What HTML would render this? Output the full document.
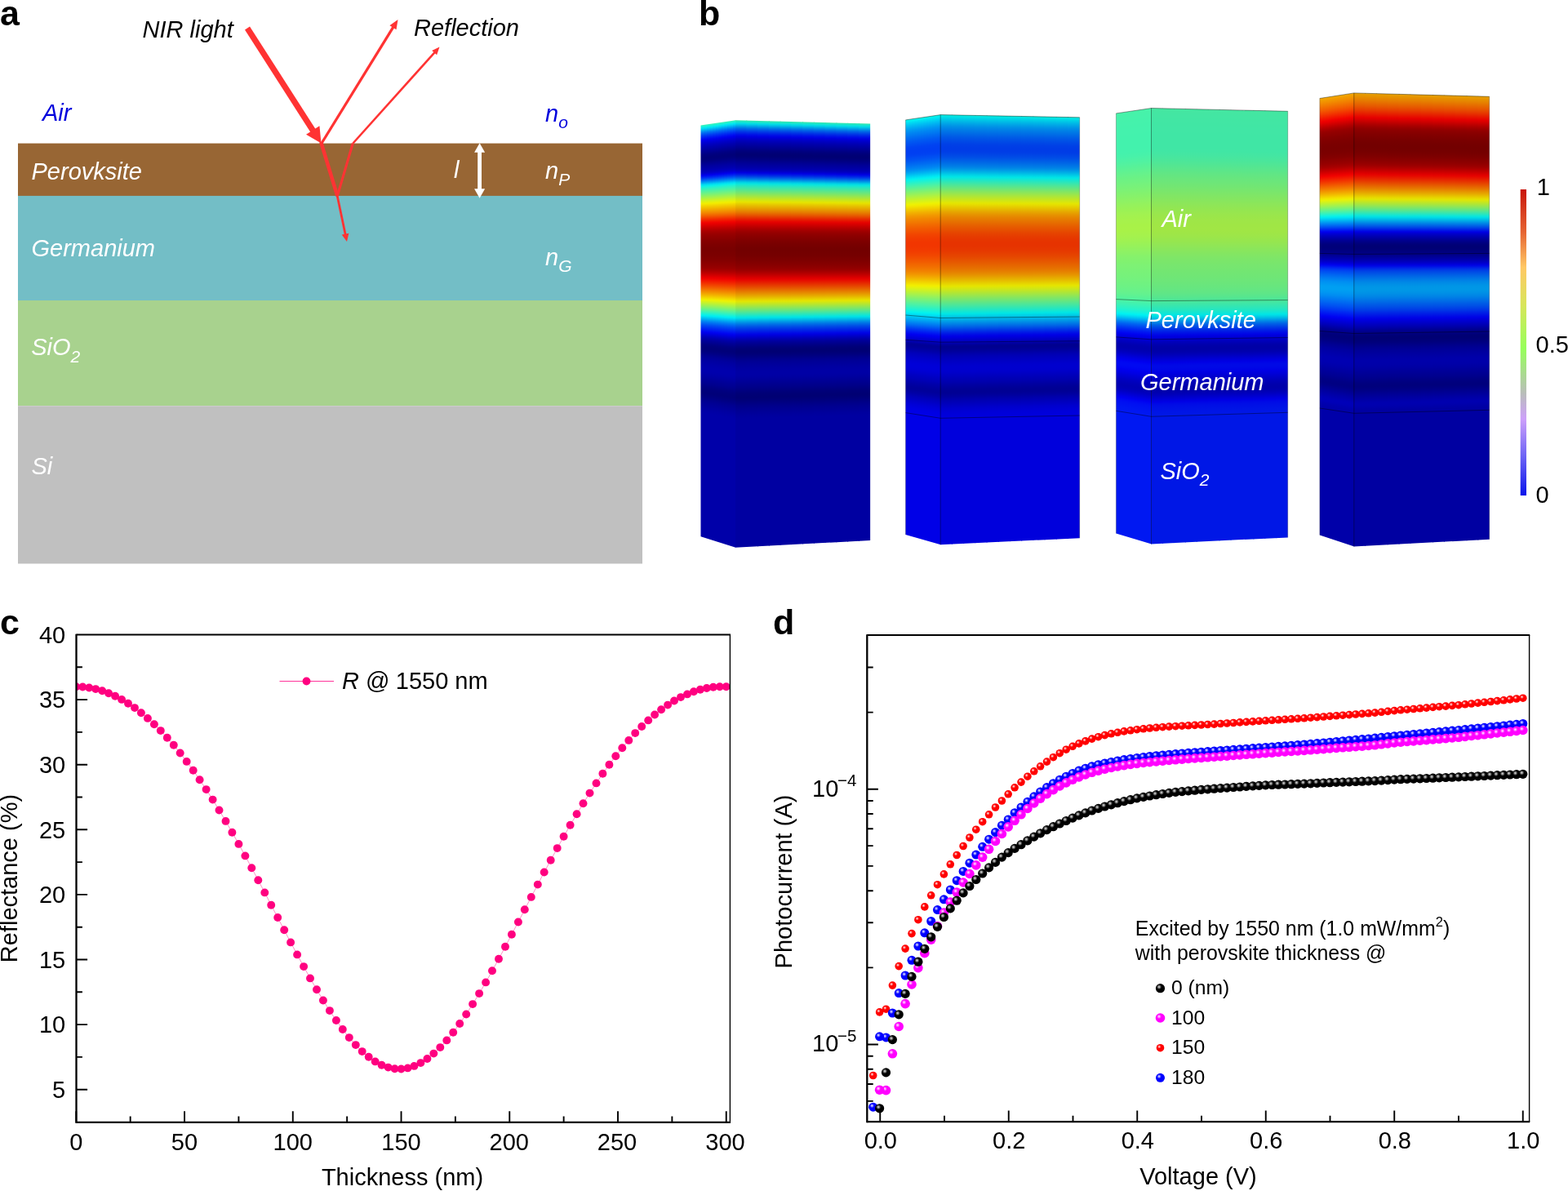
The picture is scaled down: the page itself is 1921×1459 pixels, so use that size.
<!DOCTYPE html>
<html lang="en"><head><meta charset="utf-8"><title>Figure</title>
<style>
html,body{margin:0;padding:0;background:#fff;}
body{width:1921px;height:1459px;overflow:hidden;font-family:"Liberation Sans", sans-serif;}
svg{display:block;position:absolute;left:0;top:0;}
svg text{font-family:"Liberation Sans", sans-serif;}
</style></head><body>
<svg width="1921" height="1459" viewBox="0 0 1921 1459">
<rect width="1921" height="1459" fill="#fff"/>

<g id="panel-a">
<text x="0" y="31" font-size="43" fill="#000" text-anchor="start" font-weight="bold" style="" >a</text>
<rect x="22" y="175.6" width="765" height="65" fill="#986634"/>
<rect x="22" y="239.9" width="765" height="129" fill="#73bec6"/>
<rect x="22" y="368" width="765" height="129" fill="#a8d28e"/>
<rect x="22" y="497.2" width="765" height="193.3" fill="#c0c0c0"/>
<text x="174.5" y="46" font-size="29" fill="#000" text-anchor="start" font-weight="normal" style="font-style:italic;" >NIR light</text>
<text x="507" y="43.5" font-size="29" fill="#000" text-anchor="start" font-weight="normal" style="font-style:italic;" >Reflection</text>
<text x="52" y="148" font-size="29" fill="#0000dc" text-anchor="start" font-weight="normal" style="font-style:italic;" >Air</text>
<text x="668" y="148.5" font-size="29" fill="#0000dc" style="font-style:italic">n<tspan dy="8.3" font-size="21">o</tspan></text>
<text x="38.5" y="220.3" font-size="29" fill="#fff" text-anchor="start" font-weight="normal" style="font-style:italic;" >Perovksite</text>
<text x="556" y="217.5" font-size="29" fill="#fff" text-anchor="start" font-weight="normal" style="font-style:italic;" >l</text>
<text x="668" y="219" font-size="29" fill="#fff" style="font-style:italic">n<tspan dy="8.3" font-size="21">P</tspan></text>
<text x="38.5" y="314.2" font-size="29" fill="#fff" text-anchor="start" font-weight="normal" style="font-style:italic;" >Germanium</text>
<text x="668" y="325" font-size="29" fill="#fff" style="font-style:italic">n<tspan dy="8.3" font-size="21">G</tspan></text>
<text x="38.2" y="435.2" font-size="29" fill="#fff" style="font-style:italic">SiO<tspan dy="8.3" font-size="21">2</tspan></text>
<text x="38.5" y="580.5" font-size="29" fill="#fff" text-anchor="start" font-weight="normal" style="font-style:italic;" >Si</text>
<line x1="303.00" y1="34.50" x2="383.78" y2="160.45" stroke="#ff3333" stroke-width="7.2"/><polygon points="393.50,175.60 375.04,164.87 391.45,154.34" fill="#ff3333"/>
<line x1="394.00" y1="175.50" x2="481.99" y2="32.94" stroke="#ff3333" stroke-width="3.3"/><polygon points="487.50,24.00 485.50,36.28 477.42,31.29" fill="#ff3333"/>
<line x1="432.50" y1="175.50" x2="532.82" y2="63.82" stroke="#ff3333" stroke-width="2.6"/><polygon points="538.50,57.50 535.13,67.24 529.18,61.89" fill="#ff3333"/>
<line x1="393.2" y1="174" x2="413.3" y2="240" stroke="#ff3333" stroke-width="4.4"/>
<line x1="413.3" y1="240" x2="432.3" y2="175.5" stroke="#ff3333" stroke-width="3"/>
<line x1="412.80" y1="238.00" x2="423.25" y2="287.68" stroke="#ff3333" stroke-width="2.8"/><polygon points="425.00,296.00 418.74,287.61 427.35,285.80" fill="#ff3333"/>
<line x1="587.6" y1="185" x2="587.6" y2="233" stroke="#fff" stroke-width="4.8"/>
<polygon points="587.6,175.2 594.1,186.8 581.1,186.8" fill="#fff"/>
<polygon points="587.6,242.8 594.1,231.2 581.1,231.2" fill="#fff"/>
</g>
<g id="panel-b">
<text x="856" y="31" font-size="43" fill="#000" text-anchor="start" font-weight="bold" style="" >b</text>
<defs>
<linearGradient id="gc1" gradientUnits="userSpaceOnUse" x1="0" y1="147.3" x2="0" y2="670.7">
<stop offset="0.0000" stop-color="#3ce6aa"/><stop offset="0.0038" stop-color="#19e6cd"/><stop offset="0.0076" stop-color="#00dbe6"/><stop offset="0.0115" stop-color="#00b6e6"/><stop offset="0.0153" stop-color="#008fe6"/><stop offset="0.0191" stop-color="#006be6"/><stop offset="0.0229" stop-color="#004fe6"/><stop offset="0.0267" stop-color="#0035e6"/><stop offset="0.0306" stop-color="#001ee6"/><stop offset="0.0344" stop-color="#000ae6"/><stop offset="0.0382" stop-color="#0000dd"/><stop offset="0.0420" stop-color="#0000ce"/><stop offset="0.0459" stop-color="#0000c0"/><stop offset="0.0497" stop-color="#0000b4"/><stop offset="0.0535" stop-color="#0000a9"/><stop offset="0.0573" stop-color="#0000a0"/><stop offset="0.0611" stop-color="#000096"/><stop offset="0.0650" stop-color="#00008d"/><stop offset="0.0688" stop-color="#000083"/><stop offset="0.0726" stop-color="#00007b"/><stop offset="0.0764" stop-color="#000076"/><stop offset="0.0802" stop-color="#000073"/><stop offset="0.0841" stop-color="#000075"/><stop offset="0.0879" stop-color="#00007b"/><stop offset="0.0917" stop-color="#000083"/><stop offset="0.0955" stop-color="#00008c"/><stop offset="0.0994" stop-color="#000095"/><stop offset="0.1032" stop-color="#00009c"/><stop offset="0.1070" stop-color="#0000a3"/><stop offset="0.1108" stop-color="#0000ab"/><stop offset="0.1146" stop-color="#0000b5"/><stop offset="0.1185" stop-color="#0000c7"/><stop offset="0.1223" stop-color="#0000e0"/><stop offset="0.1261" stop-color="#0017e6"/><stop offset="0.1299" stop-color="#0036e6"/><stop offset="0.1337" stop-color="#005ae6"/><stop offset="0.1376" stop-color="#0081e6"/><stop offset="0.1414" stop-color="#00a9e6"/><stop offset="0.1452" stop-color="#00d2e6"/><stop offset="0.1490" stop-color="#0be6db"/><stop offset="0.1528" stop-color="#23e6c3"/><stop offset="0.1567" stop-color="#38e6ae"/><stop offset="0.1605" stop-color="#4ae69b"/><stop offset="0.1643" stop-color="#5de689"/><stop offset="0.1681" stop-color="#70e676"/><stop offset="0.1720" stop-color="#84e661"/><stop offset="0.1758" stop-color="#99e64d"/><stop offset="0.1796" stop-color="#ade638"/><stop offset="0.1834" stop-color="#c2e624"/><stop offset="0.1872" stop-color="#d5e610"/><stop offset="0.1911" stop-color="#e6e300"/><stop offset="0.1949" stop-color="#e6d100"/><stop offset="0.1987" stop-color="#e6c000"/><stop offset="0.2025" stop-color="#e6b000"/><stop offset="0.2063" stop-color="#e69f00"/><stop offset="0.2102" stop-color="#e68f00"/><stop offset="0.2140" stop-color="#e67e00"/><stop offset="0.2178" stop-color="#e66b00"/><stop offset="0.2216" stop-color="#e65700"/><stop offset="0.2254" stop-color="#e64100"/><stop offset="0.2293" stop-color="#e62b00"/><stop offset="0.2331" stop-color="#e61700"/><stop offset="0.2369" stop-color="#e60500"/><stop offset="0.2407" stop-color="#dc0000"/><stop offset="0.2446" stop-color="#ce0000"/><stop offset="0.2484" stop-color="#c00000"/><stop offset="0.2522" stop-color="#b30000"/><stop offset="0.2560" stop-color="#a70000"/><stop offset="0.2598" stop-color="#9d0000"/><stop offset="0.2637" stop-color="#950000"/><stop offset="0.2675" stop-color="#8f0000"/><stop offset="0.2713" stop-color="#8a0000"/><stop offset="0.2751" stop-color="#860000"/><stop offset="0.2789" stop-color="#820000"/><stop offset="0.2828" stop-color="#7e0000"/><stop offset="0.2866" stop-color="#7b0000"/><stop offset="0.2904" stop-color="#780000"/><stop offset="0.2942" stop-color="#760000"/><stop offset="0.2981" stop-color="#740000"/><stop offset="0.3019" stop-color="#730000"/><stop offset="0.3057" stop-color="#730000"/><stop offset="0.3095" stop-color="#740000"/><stop offset="0.3133" stop-color="#750000"/><stop offset="0.3172" stop-color="#760000"/><stop offset="0.3210" stop-color="#790000"/><stop offset="0.3248" stop-color="#7b0000"/><stop offset="0.3286" stop-color="#7e0000"/><stop offset="0.3324" stop-color="#820000"/><stop offset="0.3363" stop-color="#850000"/><stop offset="0.3401" stop-color="#890000"/><stop offset="0.3439" stop-color="#8e0000"/><stop offset="0.3477" stop-color="#930000"/><stop offset="0.3515" stop-color="#9c0000"/><stop offset="0.3554" stop-color="#a80000"/><stop offset="0.3592" stop-color="#b50000"/><stop offset="0.3630" stop-color="#c30000"/><stop offset="0.3668" stop-color="#d20000"/><stop offset="0.3707" stop-color="#e10000"/><stop offset="0.3745" stop-color="#e60900"/><stop offset="0.3783" stop-color="#e61800"/><stop offset="0.3821" stop-color="#e62700"/><stop offset="0.3859" stop-color="#e63700"/><stop offset="0.3898" stop-color="#e64700"/><stop offset="0.3936" stop-color="#e65800"/><stop offset="0.3974" stop-color="#e66900"/><stop offset="0.4012" stop-color="#e67a00"/><stop offset="0.4050" stop-color="#e68b00"/><stop offset="0.4089" stop-color="#e69d00"/><stop offset="0.4127" stop-color="#e6af00"/><stop offset="0.4165" stop-color="#e6c200"/><stop offset="0.4203" stop-color="#e6d500"/><stop offset="0.4241" stop-color="#e3e603"/><stop offset="0.4280" stop-color="#cee617"/><stop offset="0.4318" stop-color="#b9e62d"/><stop offset="0.4356" stop-color="#a3e642"/><stop offset="0.4394" stop-color="#8de659"/><stop offset="0.4433" stop-color="#76e66f"/><stop offset="0.4471" stop-color="#5fe687"/><stop offset="0.4509" stop-color="#47e69f"/><stop offset="0.4547" stop-color="#2ee6b7"/><stop offset="0.4585" stop-color="#15e6d0"/><stop offset="0.4624" stop-color="#00e2e6"/><stop offset="0.4662" stop-color="#00c7e6"/><stop offset="0.4700" stop-color="#00ace6"/><stop offset="0.4738" stop-color="#0090e6"/><stop offset="0.4776" stop-color="#0076e6"/><stop offset="0.4815" stop-color="#005fe6"/><stop offset="0.4853" stop-color="#004ae6"/><stop offset="0.4891" stop-color="#0038e6"/><stop offset="0.4929" stop-color="#0027e6"/><stop offset="0.4968" stop-color="#0017e6"/><stop offset="0.5006" stop-color="#0007e6"/><stop offset="0.5044" stop-color="#0000dc"/><stop offset="0.5082" stop-color="#0000ca"/><stop offset="0.5120" stop-color="#0000b8"/><stop offset="0.5159" stop-color="#0000a8"/><stop offset="0.5197" stop-color="#00009b"/><stop offset="0.5235" stop-color="#000091"/><stop offset="0.5273" stop-color="#000088"/><stop offset="0.5311" stop-color="#00007f"/><stop offset="0.5350" stop-color="#000078"/><stop offset="0.5388" stop-color="#000074"/><stop offset="0.5426" stop-color="#000073"/><stop offset="0.5464" stop-color="#000076"/><stop offset="0.5502" stop-color="#00007b"/><stop offset="0.5541" stop-color="#000081"/><stop offset="0.5579" stop-color="#000088"/><stop offset="0.5617" stop-color="#00008f"/><stop offset="0.5655" stop-color="#000094"/><stop offset="0.5694" stop-color="#000098"/><stop offset="0.5732" stop-color="#00009b"/><stop offset="0.5770" stop-color="#00009e"/><stop offset="0.5808" stop-color="#0000a1"/><stop offset="0.5846" stop-color="#0000a3"/><stop offset="0.5885" stop-color="#0000a5"/><stop offset="0.5923" stop-color="#0000a5"/><stop offset="0.5961" stop-color="#0000a5"/><stop offset="0.5999" stop-color="#0000a3"/><stop offset="0.6037" stop-color="#0000a0"/><stop offset="0.6076" stop-color="#00009c"/><stop offset="0.6114" stop-color="#000098"/><stop offset="0.6152" stop-color="#000094"/><stop offset="0.6190" stop-color="#000090"/><stop offset="0.6229" stop-color="#00008c"/><stop offset="0.6267" stop-color="#000088"/><stop offset="0.6305" stop-color="#000083"/><stop offset="0.6343" stop-color="#00007e"/><stop offset="0.6381" stop-color="#000079"/><stop offset="0.6420" stop-color="#000076"/><stop offset="0.6458" stop-color="#000074"/><stop offset="0.6496" stop-color="#000073"/><stop offset="0.6534" stop-color="#000076"/><stop offset="0.6572" stop-color="#00007a"/><stop offset="0.6611" stop-color="#00007f"/><stop offset="0.6649" stop-color="#000084"/><stop offset="0.6687" stop-color="#000089"/><stop offset="0.6725" stop-color="#00008d"/><stop offset="0.6763" stop-color="#000091"/><stop offset="0.6802" stop-color="#000094"/><stop offset="0.6840" stop-color="#000097"/><stop offset="0.6878" stop-color="#00009a"/><stop offset="0.6916" stop-color="#00009d"/><stop offset="0.6955" stop-color="#00009f"/><stop offset="0.6993" stop-color="#0000a1"/><stop offset="0.7025" stop-color="#0000a1"/><stop offset="1.0000" stop-color="#0000a1"/>
</linearGradient>
<linearGradient id="gc2" gradientUnits="userSpaceOnUse" x1="0" y1="140.6" x2="0" y2="667.2">
<stop offset="0.0000" stop-color="#0ee6d8"/><stop offset="0.0038" stop-color="#00e2e6"/><stop offset="0.0076" stop-color="#00d3e6"/><stop offset="0.0114" stop-color="#00c4e6"/><stop offset="0.0152" stop-color="#00b6e6"/><stop offset="0.0190" stop-color="#00a9e6"/><stop offset="0.0228" stop-color="#009ce6"/><stop offset="0.0266" stop-color="#0090e6"/><stop offset="0.0304" stop-color="#0086e6"/><stop offset="0.0342" stop-color="#007de6"/><stop offset="0.0380" stop-color="#0075e6"/><stop offset="0.0418" stop-color="#006de6"/><stop offset="0.0456" stop-color="#0065e6"/><stop offset="0.0494" stop-color="#005de6"/><stop offset="0.0532" stop-color="#0056e6"/><stop offset="0.0570" stop-color="#0050e6"/><stop offset="0.0608" stop-color="#004ae6"/><stop offset="0.0646" stop-color="#0045e6"/><stop offset="0.0684" stop-color="#0040e6"/><stop offset="0.0722" stop-color="#003ee6"/><stop offset="0.0760" stop-color="#003ce6"/><stop offset="0.0798" stop-color="#003ce6"/><stop offset="0.0836" stop-color="#003de6"/><stop offset="0.0874" stop-color="#0040e6"/><stop offset="0.0912" stop-color="#0045e6"/><stop offset="0.0949" stop-color="#004ae6"/><stop offset="0.0987" stop-color="#0050e6"/><stop offset="0.1025" stop-color="#0058e6"/><stop offset="0.1063" stop-color="#0060e6"/><stop offset="0.1101" stop-color="#0068e6"/><stop offset="0.1139" stop-color="#0071e6"/><stop offset="0.1177" stop-color="#007ae6"/><stop offset="0.1215" stop-color="#0084e6"/><stop offset="0.1253" stop-color="#0092e6"/><stop offset="0.1291" stop-color="#00a2e6"/><stop offset="0.1329" stop-color="#00b3e6"/><stop offset="0.1367" stop-color="#00c5e6"/><stop offset="0.1405" stop-color="#00d7e6"/><stop offset="0.1443" stop-color="#02e6e4"/><stop offset="0.1481" stop-color="#11e6d5"/><stop offset="0.1519" stop-color="#20e6c5"/><stop offset="0.1557" stop-color="#30e6b6"/><stop offset="0.1595" stop-color="#3fe6a7"/><stop offset="0.1633" stop-color="#4ee698"/><stop offset="0.1671" stop-color="#5ce689"/><stop offset="0.1709" stop-color="#6be67b"/><stop offset="0.1747" stop-color="#79e66c"/><stop offset="0.1785" stop-color="#87e65e"/><stop offset="0.1823" stop-color="#95e651"/><stop offset="0.1861" stop-color="#a3e643"/><stop offset="0.1899" stop-color="#b0e635"/><stop offset="0.1937" stop-color="#bde628"/><stop offset="0.1975" stop-color="#cae61b"/><stop offset="0.2013" stop-color="#d7e60f"/><stop offset="0.2051" stop-color="#e3e602"/><stop offset="0.2089" stop-color="#e6dc00"/><stop offset="0.2127" stop-color="#e6cf00"/><stop offset="0.2165" stop-color="#e6c300"/><stop offset="0.2203" stop-color="#e6b700"/><stop offset="0.2241" stop-color="#e6aa00"/><stop offset="0.2279" stop-color="#e69f00"/><stop offset="0.2317" stop-color="#e69400"/><stop offset="0.2355" stop-color="#e68b00"/><stop offset="0.2393" stop-color="#e68200"/><stop offset="0.2431" stop-color="#e67b00"/><stop offset="0.2469" stop-color="#e67400"/><stop offset="0.2507" stop-color="#e66d00"/><stop offset="0.2545" stop-color="#e66600"/><stop offset="0.2583" stop-color="#e65f00"/><stop offset="0.2621" stop-color="#e65900"/><stop offset="0.2659" stop-color="#e65300"/><stop offset="0.2697" stop-color="#e64d00"/><stop offset="0.2735" stop-color="#e64700"/><stop offset="0.2773" stop-color="#e64200"/><stop offset="0.2810" stop-color="#e63e00"/><stop offset="0.2848" stop-color="#e63a00"/><stop offset="0.2886" stop-color="#e63700"/><stop offset="0.2924" stop-color="#e63500"/><stop offset="0.2962" stop-color="#e63300"/><stop offset="0.3000" stop-color="#e63300"/><stop offset="0.3038" stop-color="#e63300"/><stop offset="0.3076" stop-color="#e63400"/><stop offset="0.3114" stop-color="#e63600"/><stop offset="0.3152" stop-color="#e63800"/><stop offset="0.3190" stop-color="#e63b00"/><stop offset="0.3228" stop-color="#e63f00"/><stop offset="0.3266" stop-color="#e64300"/><stop offset="0.3304" stop-color="#e64700"/><stop offset="0.3342" stop-color="#e64c00"/><stop offset="0.3380" stop-color="#e65200"/><stop offset="0.3418" stop-color="#e65700"/><stop offset="0.3456" stop-color="#e65d00"/><stop offset="0.3494" stop-color="#e66300"/><stop offset="0.3532" stop-color="#e66900"/><stop offset="0.3570" stop-color="#e66f00"/><stop offset="0.3608" stop-color="#e67600"/><stop offset="0.3646" stop-color="#e67d00"/><stop offset="0.3684" stop-color="#e68600"/><stop offset="0.3722" stop-color="#e69000"/><stop offset="0.3760" stop-color="#e69b00"/><stop offset="0.3798" stop-color="#e6a700"/><stop offset="0.3836" stop-color="#e6b300"/><stop offset="0.3874" stop-color="#e6bf00"/><stop offset="0.3912" stop-color="#e6cc00"/><stop offset="0.3950" stop-color="#e6d800"/><stop offset="0.3988" stop-color="#e6e400"/><stop offset="0.4026" stop-color="#dae60b"/><stop offset="0.4064" stop-color="#cee618"/><stop offset="0.4102" stop-color="#c1e625"/><stop offset="0.4140" stop-color="#b3e632"/><stop offset="0.4178" stop-color="#a6e640"/><stop offset="0.4216" stop-color="#98e64e"/><stop offset="0.4254" stop-color="#8ae65c"/><stop offset="0.4292" stop-color="#7ce669"/><stop offset="0.4330" stop-color="#6fe677"/><stop offset="0.4368" stop-color="#61e684"/><stop offset="0.4406" stop-color="#54e692"/><stop offset="0.4444" stop-color="#47e69f"/><stop offset="0.4482" stop-color="#39e6ac"/><stop offset="0.4520" stop-color="#2be6ba"/><stop offset="0.4558" stop-color="#1de6c8"/><stop offset="0.4596" stop-color="#0fe6d6"/><stop offset="0.4633" stop-color="#00e6e5"/><stop offset="0.4671" stop-color="#00d6e6"/><stop offset="0.4709" stop-color="#00c7e6"/><stop offset="0.4747" stop-color="#00b7e6"/><stop offset="0.4785" stop-color="#00a7e6"/><stop offset="0.4823" stop-color="#0096e6"/><stop offset="0.4861" stop-color="#0085e6"/><stop offset="0.4899" stop-color="#0074e6"/><stop offset="0.4937" stop-color="#0063e6"/><stop offset="0.4975" stop-color="#0050e6"/><stop offset="0.5013" stop-color="#003de6"/><stop offset="0.5051" stop-color="#002be6"/><stop offset="0.5089" stop-color="#001ae6"/><stop offset="0.5127" stop-color="#000be6"/><stop offset="0.5165" stop-color="#0000e4"/><stop offset="0.5203" stop-color="#0000d8"/><stop offset="0.5241" stop-color="#0000cc"/><stop offset="0.5279" stop-color="#0000bf"/><stop offset="0.5317" stop-color="#0000ae"/><stop offset="0.5355" stop-color="#00009b"/><stop offset="0.5393" stop-color="#00008f"/><stop offset="0.5431" stop-color="#000090"/><stop offset="0.5469" stop-color="#000095"/><stop offset="0.5507" stop-color="#00009c"/><stop offset="0.5545" stop-color="#0000a4"/><stop offset="0.5583" stop-color="#0000ad"/><stop offset="0.5621" stop-color="#0000b4"/><stop offset="0.5659" stop-color="#0000b9"/><stop offset="0.5697" stop-color="#0000be"/><stop offset="0.5735" stop-color="#0000c2"/><stop offset="0.5773" stop-color="#0000c6"/><stop offset="0.5811" stop-color="#0000ca"/><stop offset="0.5849" stop-color="#0000cd"/><stop offset="0.5887" stop-color="#0000ce"/><stop offset="0.5925" stop-color="#0000ce"/><stop offset="0.5963" stop-color="#0000cd"/><stop offset="0.6001" stop-color="#0000ca"/><stop offset="0.6039" stop-color="#0000c5"/><stop offset="0.6077" stop-color="#0000c0"/><stop offset="0.6115" stop-color="#0000bb"/><stop offset="0.6153" stop-color="#0000b6"/><stop offset="0.6191" stop-color="#0000b2"/><stop offset="0.6229" stop-color="#0000ad"/><stop offset="0.6267" stop-color="#0000a7"/><stop offset="0.6305" stop-color="#0000a1"/><stop offset="0.6343" stop-color="#00009c"/><stop offset="0.6381" stop-color="#000097"/><stop offset="0.6419" stop-color="#000094"/><stop offset="0.6457" stop-color="#000093"/><stop offset="0.6494" stop-color="#000095"/><stop offset="0.6532" stop-color="#00009a"/><stop offset="0.6570" stop-color="#0000a0"/><stop offset="0.6608" stop-color="#0000a8"/><stop offset="0.6646" stop-color="#0000af"/><stop offset="0.6684" stop-color="#0000b5"/><stop offset="0.6722" stop-color="#0000bb"/><stop offset="0.6760" stop-color="#0000c1"/><stop offset="0.6798" stop-color="#0000c7"/><stop offset="0.6836" stop-color="#0000cd"/><stop offset="0.6874" stop-color="#0000d1"/><stop offset="0.6912" stop-color="#0000d5"/><stop offset="0.6950" stop-color="#0000d8"/><stop offset="0.6988" stop-color="#0000da"/><stop offset="0.7026" stop-color="#0000dc"/><stop offset="0.7053" stop-color="#0000dc"/><stop offset="1.0000" stop-color="#0000dc"/>
</linearGradient>
<linearGradient id="gc3" gradientUnits="userSpaceOnUse" x1="0" y1="132.5" x2="0" y2="666.4">
<stop offset="0.0000" stop-color="#45e6a1"/><stop offset="0.0037" stop-color="#44e6a1"/><stop offset="0.0075" stop-color="#44e6a2"/><stop offset="0.0112" stop-color="#43e6a2"/><stop offset="0.0150" stop-color="#43e6a3"/><stop offset="0.0187" stop-color="#43e6a3"/><stop offset="0.0225" stop-color="#42e6a3"/><stop offset="0.0262" stop-color="#42e6a4"/><stop offset="0.0300" stop-color="#42e6a4"/><stop offset="0.0337" stop-color="#41e6a4"/><stop offset="0.0375" stop-color="#41e6a4"/><stop offset="0.0412" stop-color="#41e6a5"/><stop offset="0.0450" stop-color="#41e6a5"/><stop offset="0.0487" stop-color="#41e6a5"/><stop offset="0.0524" stop-color="#41e6a5"/><stop offset="0.0562" stop-color="#40e6a5"/><stop offset="0.0599" stop-color="#40e6a5"/><stop offset="0.0637" stop-color="#40e6a5"/><stop offset="0.0674" stop-color="#40e6a5"/><stop offset="0.0712" stop-color="#40e6a5"/><stop offset="0.0749" stop-color="#40e6a5"/><stop offset="0.0787" stop-color="#40e6a5"/><stop offset="0.0824" stop-color="#40e6a5"/><stop offset="0.0862" stop-color="#40e6a5"/><stop offset="0.0899" stop-color="#40e6a5"/><stop offset="0.0937" stop-color="#41e6a5"/><stop offset="0.0974" stop-color="#41e6a4"/><stop offset="0.1011" stop-color="#43e6a3"/><stop offset="0.1049" stop-color="#44e6a2"/><stop offset="0.1086" stop-color="#46e6a0"/><stop offset="0.1124" stop-color="#48e69e"/><stop offset="0.1161" stop-color="#4ae69c"/><stop offset="0.1199" stop-color="#4ce699"/><stop offset="0.1236" stop-color="#4fe697"/><stop offset="0.1274" stop-color="#51e694"/><stop offset="0.1311" stop-color="#54e691"/><stop offset="0.1349" stop-color="#57e68f"/><stop offset="0.1386" stop-color="#5ae68c"/><stop offset="0.1423" stop-color="#5ce689"/><stop offset="0.1461" stop-color="#5fe686"/><stop offset="0.1498" stop-color="#62e684"/><stop offset="0.1536" stop-color="#64e681"/><stop offset="0.1573" stop-color="#66e67f"/><stop offset="0.1611" stop-color="#69e67d"/><stop offset="0.1648" stop-color="#6be67b"/><stop offset="0.1686" stop-color="#6de679"/><stop offset="0.1723" stop-color="#6fe677"/><stop offset="0.1761" stop-color="#71e674"/><stop offset="0.1798" stop-color="#73e672"/><stop offset="0.1836" stop-color="#76e670"/><stop offset="0.1873" stop-color="#78e66d"/><stop offset="0.1910" stop-color="#7be66b"/><stop offset="0.1948" stop-color="#7de668"/><stop offset="0.1985" stop-color="#80e666"/><stop offset="0.2023" stop-color="#82e663"/><stop offset="0.2060" stop-color="#84e661"/><stop offset="0.2098" stop-color="#87e65f"/><stop offset="0.2135" stop-color="#89e65c"/><stop offset="0.2173" stop-color="#8ce65a"/><stop offset="0.2210" stop-color="#8ee658"/><stop offset="0.2248" stop-color="#90e655"/><stop offset="0.2285" stop-color="#92e653"/><stop offset="0.2323" stop-color="#94e651"/><stop offset="0.2360" stop-color="#96e64f"/><stop offset="0.2397" stop-color="#98e64e"/><stop offset="0.2435" stop-color="#9ae64c"/><stop offset="0.2472" stop-color="#9be64a"/><stop offset="0.2510" stop-color="#9ce649"/><stop offset="0.2547" stop-color="#9ee648"/><stop offset="0.2585" stop-color="#9fe647"/><stop offset="0.2622" stop-color="#9fe646"/><stop offset="0.2660" stop-color="#a0e645"/><stop offset="0.2697" stop-color="#a0e645"/><stop offset="0.2735" stop-color="#a1e645"/><stop offset="0.2772" stop-color="#a1e645"/><stop offset="0.2810" stop-color="#a0e645"/><stop offset="0.2847" stop-color="#9fe646"/><stop offset="0.2884" stop-color="#9ee647"/><stop offset="0.2922" stop-color="#9de649"/><stop offset="0.2959" stop-color="#9be64a"/><stop offset="0.2997" stop-color="#99e64c"/><stop offset="0.3034" stop-color="#97e64e"/><stop offset="0.3072" stop-color="#95e650"/><stop offset="0.3109" stop-color="#93e653"/><stop offset="0.3147" stop-color="#90e655"/><stop offset="0.3184" stop-color="#8ee658"/><stop offset="0.3222" stop-color="#8be65a"/><stop offset="0.3259" stop-color="#89e65d"/><stop offset="0.3296" stop-color="#87e65f"/><stop offset="0.3334" stop-color="#84e661"/><stop offset="0.3371" stop-color="#82e664"/><stop offset="0.3409" stop-color="#80e666"/><stop offset="0.3446" stop-color="#7ee668"/><stop offset="0.3484" stop-color="#7ce669"/><stop offset="0.3521" stop-color="#7be66b"/><stop offset="0.3559" stop-color="#79e66c"/><stop offset="0.3596" stop-color="#78e66e"/><stop offset="0.3634" stop-color="#77e66f"/><stop offset="0.3671" stop-color="#76e670"/><stop offset="0.3709" stop-color="#74e671"/><stop offset="0.3746" stop-color="#73e672"/><stop offset="0.3783" stop-color="#72e673"/><stop offset="0.3821" stop-color="#71e674"/><stop offset="0.3858" stop-color="#70e675"/><stop offset="0.3896" stop-color="#6fe676"/><stop offset="0.3933" stop-color="#6ee678"/><stop offset="0.3971" stop-color="#6de679"/><stop offset="0.4008" stop-color="#6be67a"/><stop offset="0.4046" stop-color="#6ae67c"/><stop offset="0.4083" stop-color="#68e67d"/><stop offset="0.4121" stop-color="#67e67f"/><stop offset="0.4158" stop-color="#65e681"/><stop offset="0.4196" stop-color="#63e683"/><stop offset="0.4233" stop-color="#61e685"/><stop offset="0.4270" stop-color="#5ee688"/><stop offset="0.4308" stop-color="#5ae68b"/><stop offset="0.4345" stop-color="#56e68f"/><stop offset="0.4383" stop-color="#51e694"/><stop offset="0.4420" stop-color="#4ce699"/><stop offset="0.4458" stop-color="#46e69f"/><stop offset="0.4495" stop-color="#40e6a6"/><stop offset="0.4533" stop-color="#39e6ac"/><stop offset="0.4570" stop-color="#32e6b3"/><stop offset="0.4608" stop-color="#2be6bb"/><stop offset="0.4645" stop-color="#22e6c3"/><stop offset="0.4683" stop-color="#18e6cd"/><stop offset="0.4720" stop-color="#0de6d9"/><stop offset="0.4757" stop-color="#00e6e6"/><stop offset="0.4795" stop-color="#00d4e6"/><stop offset="0.4832" stop-color="#00bee6"/><stop offset="0.4870" stop-color="#00a5e6"/><stop offset="0.4907" stop-color="#008ce6"/><stop offset="0.4945" stop-color="#0074e6"/><stop offset="0.4982" stop-color="#005fe6"/><stop offset="0.5020" stop-color="#004ee6"/><stop offset="0.5057" stop-color="#003de6"/><stop offset="0.5095" stop-color="#002de6"/><stop offset="0.5132" stop-color="#001ee6"/><stop offset="0.5170" stop-color="#0011e6"/><stop offset="0.5207" stop-color="#0006e6"/><stop offset="0.5244" stop-color="#0000e0"/><stop offset="0.5282" stop-color="#0000d5"/><stop offset="0.5319" stop-color="#0000ca"/><stop offset="0.5357" stop-color="#0000c0"/><stop offset="0.5394" stop-color="#0000b7"/><stop offset="0.5432" stop-color="#0000af"/><stop offset="0.5469" stop-color="#0000a9"/><stop offset="0.5507" stop-color="#0000a6"/><stop offset="0.5544" stop-color="#0000a6"/><stop offset="0.5582" stop-color="#0000a9"/><stop offset="0.5619" stop-color="#0000ae"/><stop offset="0.5656" stop-color="#0000b6"/><stop offset="0.5694" stop-color="#0000bf"/><stop offset="0.5731" stop-color="#0000c9"/><stop offset="0.5769" stop-color="#0000d3"/><stop offset="0.5806" stop-color="#0000dc"/><stop offset="0.5844" stop-color="#0000e4"/><stop offset="0.5881" stop-color="#0005e6"/><stop offset="0.5919" stop-color="#0009e6"/><stop offset="0.5956" stop-color="#0009e6"/><stop offset="0.5994" stop-color="#0007e6"/><stop offset="0.6031" stop-color="#0004e6"/><stop offset="0.6069" stop-color="#0000e4"/><stop offset="0.6106" stop-color="#0000de"/><stop offset="0.6143" stop-color="#0000d8"/><stop offset="0.6181" stop-color="#0000d0"/><stop offset="0.6218" stop-color="#0000c9"/><stop offset="0.6256" stop-color="#0000c2"/><stop offset="0.6293" stop-color="#0000bb"/><stop offset="0.6331" stop-color="#0000b5"/><stop offset="0.6368" stop-color="#0000b0"/><stop offset="0.6406" stop-color="#0000ac"/><stop offset="0.6443" stop-color="#0000aa"/><stop offset="0.6481" stop-color="#0000ab"/><stop offset="0.6518" stop-color="#0000ae"/><stop offset="0.6556" stop-color="#0000b5"/><stop offset="0.6593" stop-color="#0000bd"/><stop offset="0.6630" stop-color="#0000c7"/><stop offset="0.6668" stop-color="#0000d1"/><stop offset="0.6705" stop-color="#0000dc"/><stop offset="0.6743" stop-color="#0000e5"/><stop offset="0.6780" stop-color="#0007e6"/><stop offset="0.6818" stop-color="#000ce6"/><stop offset="0.6855" stop-color="#000fe6"/><stop offset="0.6893" stop-color="#0011e6"/><stop offset="0.6930" stop-color="#0013e6"/><stop offset="0.6968" stop-color="#0015e6"/><stop offset="0.7005" stop-color="#0016e6"/><stop offset="0.7043" stop-color="#0017e6"/><stop offset="0.7071" stop-color="#0017e6"/><stop offset="1.0000" stop-color="#0017e6"/>
</linearGradient>
<linearGradient id="gc4" gradientUnits="userSpaceOnUse" x1="0" y1="113.9" x2="0" y2="669.4">
<stop offset="0.0000" stop-color="#e6a100"/><stop offset="0.0036" stop-color="#e69900"/><stop offset="0.0072" stop-color="#e69100"/><stop offset="0.0108" stop-color="#e68800"/><stop offset="0.0144" stop-color="#e67f00"/><stop offset="0.0180" stop-color="#e67500"/><stop offset="0.0216" stop-color="#e66b00"/><stop offset="0.0252" stop-color="#e66100"/><stop offset="0.0288" stop-color="#e65700"/><stop offset="0.0324" stop-color="#e64b00"/><stop offset="0.0360" stop-color="#e63f00"/><stop offset="0.0396" stop-color="#e63200"/><stop offset="0.0432" stop-color="#e62500"/><stop offset="0.0468" stop-color="#e61800"/><stop offset="0.0504" stop-color="#e60b00"/><stop offset="0.0540" stop-color="#e40000"/><stop offset="0.0576" stop-color="#d80000"/><stop offset="0.0612" stop-color="#ca0000"/><stop offset="0.0648" stop-color="#bc0000"/><stop offset="0.0684" stop-color="#ae0000"/><stop offset="0.0720" stop-color="#a20000"/><stop offset="0.0756" stop-color="#970000"/><stop offset="0.0792" stop-color="#8f0000"/><stop offset="0.0828" stop-color="#8a0000"/><stop offset="0.0864" stop-color="#860000"/><stop offset="0.0900" stop-color="#820000"/><stop offset="0.0936" stop-color="#7f0000"/><stop offset="0.0972" stop-color="#7c0000"/><stop offset="0.1008" stop-color="#790000"/><stop offset="0.1044" stop-color="#770000"/><stop offset="0.1080" stop-color="#750000"/><stop offset="0.1116" stop-color="#740000"/><stop offset="0.1152" stop-color="#730000"/><stop offset="0.1188" stop-color="#730000"/><stop offset="0.1224" stop-color="#740000"/><stop offset="0.1260" stop-color="#750000"/><stop offset="0.1296" stop-color="#770000"/><stop offset="0.1332" stop-color="#7a0000"/><stop offset="0.1368" stop-color="#7d0000"/><stop offset="0.1404" stop-color="#810000"/><stop offset="0.1440" stop-color="#860000"/><stop offset="0.1476" stop-color="#8a0000"/><stop offset="0.1512" stop-color="#8f0000"/><stop offset="0.1548" stop-color="#950000"/><stop offset="0.1584" stop-color="#9c0000"/><stop offset="0.1620" stop-color="#a70000"/><stop offset="0.1656" stop-color="#b30000"/><stop offset="0.1692" stop-color="#c00000"/><stop offset="0.1728" stop-color="#ce0000"/><stop offset="0.1764" stop-color="#dc0000"/><stop offset="0.1800" stop-color="#e60400"/><stop offset="0.1836" stop-color="#e61100"/><stop offset="0.1872" stop-color="#e61f00"/><stop offset="0.1908" stop-color="#e62d00"/><stop offset="0.1944" stop-color="#e63b00"/><stop offset="0.1980" stop-color="#e64a00"/><stop offset="0.2016" stop-color="#e65900"/><stop offset="0.2052" stop-color="#e66800"/><stop offset="0.2088" stop-color="#e67700"/><stop offset="0.2124" stop-color="#e68700"/><stop offset="0.2160" stop-color="#e69700"/><stop offset="0.2196" stop-color="#e6a700"/><stop offset="0.2232" stop-color="#e6b800"/><stop offset="0.2268" stop-color="#e6c900"/><stop offset="0.2304" stop-color="#e6da00"/><stop offset="0.2340" stop-color="#dfe606"/><stop offset="0.2376" stop-color="#cde618"/><stop offset="0.2412" stop-color="#bae62b"/><stop offset="0.2448" stop-color="#a7e63e"/><stop offset="0.2484" stop-color="#94e652"/><stop offset="0.2520" stop-color="#7fe666"/><stop offset="0.2556" stop-color="#6ae67b"/><stop offset="0.2592" stop-color="#54e692"/><stop offset="0.2628" stop-color="#3de6a9"/><stop offset="0.2664" stop-color="#25e6c1"/><stop offset="0.2700" stop-color="#0de6d9"/><stop offset="0.2736" stop-color="#00dbe6"/><stop offset="0.2772" stop-color="#00c3e6"/><stop offset="0.2808" stop-color="#00ace6"/><stop offset="0.2844" stop-color="#0094e6"/><stop offset="0.2880" stop-color="#007ce6"/><stop offset="0.2916" stop-color="#0064e6"/><stop offset="0.2952" stop-color="#004ce6"/><stop offset="0.2988" stop-color="#0032e6"/><stop offset="0.3024" stop-color="#0017e6"/><stop offset="0.3060" stop-color="#0000e3"/><stop offset="0.3096" stop-color="#0000ce"/><stop offset="0.3132" stop-color="#0000be"/><stop offset="0.3168" stop-color="#0000af"/><stop offset="0.3204" stop-color="#0000a1"/><stop offset="0.3240" stop-color="#000093"/><stop offset="0.3276" stop-color="#000088"/><stop offset="0.3312" stop-color="#00007e"/><stop offset="0.3348" stop-color="#000077"/><stop offset="0.3384" stop-color="#000074"/><stop offset="0.3420" stop-color="#000074"/><stop offset="0.3456" stop-color="#000077"/><stop offset="0.3492" stop-color="#00007c"/><stop offset="0.3528" stop-color="#000082"/><stop offset="0.3564" stop-color="#000089"/><stop offset="0.3600" stop-color="#000092"/><stop offset="0.3636" stop-color="#00009d"/><stop offset="0.3672" stop-color="#0000a9"/><stop offset="0.3708" stop-color="#0000b7"/><stop offset="0.3744" stop-color="#0000c6"/><stop offset="0.3780" stop-color="#0000d8"/><stop offset="0.3816" stop-color="#0007e6"/><stop offset="0.3852" stop-color="#001ce6"/><stop offset="0.3888" stop-color="#0030e6"/><stop offset="0.3924" stop-color="#0040e6"/><stop offset="0.3960" stop-color="#004ce6"/><stop offset="0.3996" stop-color="#0057e6"/><stop offset="0.4032" stop-color="#0062e6"/><stop offset="0.4068" stop-color="#006ce6"/><stop offset="0.4104" stop-color="#0076e6"/><stop offset="0.4140" stop-color="#007fe6"/><stop offset="0.4176" stop-color="#0087e6"/><stop offset="0.4212" stop-color="#008de6"/><stop offset="0.4248" stop-color="#0092e6"/><stop offset="0.4284" stop-color="#0096e6"/><stop offset="0.4320" stop-color="#0097e6"/><stop offset="0.4356" stop-color="#0097e6"/><stop offset="0.4392" stop-color="#0094e6"/><stop offset="0.4428" stop-color="#0090e6"/><stop offset="0.4464" stop-color="#008ae6"/><stop offset="0.4500" stop-color="#0084e6"/><stop offset="0.4536" stop-color="#007ce6"/><stop offset="0.4572" stop-color="#0073e6"/><stop offset="0.4608" stop-color="#006be6"/><stop offset="0.4644" stop-color="#0062e6"/><stop offset="0.4680" stop-color="#0059e6"/><stop offset="0.4716" stop-color="#0051e6"/><stop offset="0.4752" stop-color="#0047e6"/><stop offset="0.4788" stop-color="#003de6"/><stop offset="0.4824" stop-color="#0032e6"/><stop offset="0.4860" stop-color="#0026e6"/><stop offset="0.4896" stop-color="#001be6"/><stop offset="0.4932" stop-color="#0010e6"/><stop offset="0.4968" stop-color="#0005e6"/><stop offset="0.5005" stop-color="#0000e0"/><stop offset="0.5041" stop-color="#0000d5"/><stop offset="0.5077" stop-color="#0000ca"/><stop offset="0.5113" stop-color="#0000bf"/><stop offset="0.5149" stop-color="#0000b4"/><stop offset="0.5185" stop-color="#0000a8"/><stop offset="0.5221" stop-color="#00009b"/><stop offset="0.5257" stop-color="#000090"/><stop offset="0.5293" stop-color="#000086"/><stop offset="0.5329" stop-color="#00007e"/><stop offset="0.5365" stop-color="#000076"/><stop offset="0.5401" stop-color="#000073"/><stop offset="0.5437" stop-color="#000074"/><stop offset="0.5473" stop-color="#000078"/><stop offset="0.5509" stop-color="#00007c"/><stop offset="0.5545" stop-color="#000082"/><stop offset="0.5581" stop-color="#000088"/><stop offset="0.5617" stop-color="#00008e"/><stop offset="0.5653" stop-color="#000093"/><stop offset="0.5689" stop-color="#000098"/><stop offset="0.5725" stop-color="#00009b"/><stop offset="0.5761" stop-color="#00009f"/><stop offset="0.5797" stop-color="#0000a2"/><stop offset="0.5833" stop-color="#0000a5"/><stop offset="0.5869" stop-color="#0000a8"/><stop offset="0.5905" stop-color="#0000aa"/><stop offset="0.5941" stop-color="#0000aa"/><stop offset="0.5977" stop-color="#0000a9"/><stop offset="0.6013" stop-color="#0000a8"/><stop offset="0.6049" stop-color="#0000a5"/><stop offset="0.6085" stop-color="#0000a2"/><stop offset="0.6121" stop-color="#00009e"/><stop offset="0.6157" stop-color="#00009a"/><stop offset="0.6193" stop-color="#000097"/><stop offset="0.6229" stop-color="#000093"/><stop offset="0.6265" stop-color="#000090"/><stop offset="0.6301" stop-color="#00008c"/><stop offset="0.6337" stop-color="#000087"/><stop offset="0.6373" stop-color="#000083"/><stop offset="0.6409" stop-color="#00007f"/><stop offset="0.6445" stop-color="#00007d"/><stop offset="0.6481" stop-color="#00007c"/><stop offset="0.6517" stop-color="#00007f"/><stop offset="0.6553" stop-color="#000083"/><stop offset="0.6589" stop-color="#000089"/><stop offset="0.6625" stop-color="#00008f"/><stop offset="0.6661" stop-color="#000095"/><stop offset="0.6697" stop-color="#00009a"/><stop offset="0.6733" stop-color="#0000a0"/><stop offset="0.6769" stop-color="#0000a5"/><stop offset="0.6805" stop-color="#0000aa"/><stop offset="0.6841" stop-color="#0000ae"/><stop offset="0.6877" stop-color="#0000af"/><stop offset="0.6913" stop-color="#0000ad"/><stop offset="0.6949" stop-color="#0000a9"/><stop offset="0.6985" stop-color="#0000a5"/><stop offset="0.7021" stop-color="#0000a2"/><stop offset="0.7057" stop-color="#0000a1"/><stop offset="0.7059" stop-color="#0000a1"/><stop offset="1.0000" stop-color="#0000a1"/>
</linearGradient>
<linearGradient id="gcb" x1="0" y1="0" x2="0" y2="1">
<stop offset="0" stop-color="#c8140a"/>
<stop offset="0.14" stop-color="#e66432"/>
<stop offset="0.255" stop-color="#ffc864"/>
<stop offset="0.38" stop-color="#d7e65a"/>
<stop offset="0.52" stop-color="#96ff5a"/>
<stop offset="0.665" stop-color="#b9beb9"/>
<stop offset="0.75" stop-color="#cda0fa"/>
<stop offset="0.87" stop-color="#6e64f5"/>
<stop offset="1" stop-color="#0a14eb"/>
</linearGradient>
</defs>
<clipPath id="cfc1"><polygon points="900.7,147.3 1066.2,151.5 1066.2,662 900.7,670.7"/></clipPath>
<clipPath id="csc1"><polygon points="858.5,153.4 901.3,147.3 901.3,670.7 858.5,657.2"/></clipPath>
<g clip-path="url(#cfc1)" fill="url(#gc1)"><rect x="900.50" y="116.3" width="14.77" height="585.4" transform="matrix(1,0,0,0.99897,0,0.326)"/><rect x="914.27" y="116.3" width="14.77" height="585.4" transform="matrix(1,0,0,0.99692,0,0.979)"/><rect x="928.03" y="116.3" width="14.77" height="585.4" transform="matrix(1,0,0,0.99487,0,1.631)"/><rect x="941.80" y="116.3" width="14.77" height="585.4" transform="matrix(1,0,0,0.99281,0,2.284)"/><rect x="955.57" y="116.3" width="14.77" height="585.4" transform="matrix(1,0,0,0.99076,0,2.936)"/><rect x="969.33" y="116.3" width="14.77" height="585.4" transform="matrix(1,0,0,0.98870,0,3.589)"/><rect x="983.10" y="116.3" width="14.77" height="585.4" transform="matrix(1,0,0,0.98665,0,4.241)"/><rect x="996.87" y="116.3" width="14.77" height="585.4" transform="matrix(1,0,0,0.98460,0,4.894)"/><rect x="1010.63" y="116.3" width="14.77" height="585.4" transform="matrix(1,0,0,0.98254,0,5.547)"/><rect x="1024.40" y="116.3" width="14.77" height="585.4" transform="matrix(1,0,0,0.98049,0,6.199)"/><rect x="1038.17" y="116.3" width="14.77" height="585.4" transform="matrix(1,0,0,0.97843,0,6.852)"/><rect x="1051.93" y="116.3" width="14.77" height="585.4" transform="matrix(1,0,0,0.97638,0,7.504)"/></g><g clip-path="url(#csc1)" fill="url(#gc1)" style="filter:brightness(1.05)"><rect x="896.96" y="116.3" width="4.54" height="585.4" transform="matrix(1,0,0,0.99844,0,0.484)"/><rect x="893.42" y="116.3" width="4.54" height="585.4" transform="matrix(1,0,0,0.99532,0,1.452)"/><rect x="889.88" y="116.3" width="4.54" height="585.4" transform="matrix(1,0,0,0.99220,0,2.420)"/><rect x="886.33" y="116.3" width="4.54" height="585.4" transform="matrix(1,0,0,0.98908,0,3.388)"/><rect x="882.79" y="116.3" width="4.54" height="585.4" transform="matrix(1,0,0,0.98596,0,4.356)"/><rect x="879.25" y="116.3" width="4.54" height="585.4" transform="matrix(1,0,0,0.98284,0,5.324)"/><rect x="875.71" y="116.3" width="4.54" height="585.4" transform="matrix(1,0,0,0.97972,0,6.292)"/><rect x="872.17" y="116.3" width="4.54" height="585.4" transform="matrix(1,0,0,0.97660,0,7.260)"/><rect x="868.62" y="116.3" width="4.54" height="585.4" transform="matrix(1,0,0,0.97347,0,8.228)"/><rect x="865.08" y="116.3" width="4.54" height="585.4" transform="matrix(1,0,0,0.97035,0,9.196)"/><rect x="861.54" y="116.3" width="4.54" height="585.4" transform="matrix(1,0,0,0.96723,0,10.164)"/><rect x="858.00" y="116.3" width="4.54" height="585.4" transform="matrix(1,0,0,0.96411,0,11.132)"/></g>
<clipPath id="cfc2"><polygon points="1151.9,140.6 1322.7,143.8 1322.7,659.2 1151.9,667.2"/></clipPath>
<clipPath id="csc2"><polygon points="1109.5,146.9 1152.5,140.6 1152.5,667.2 1109.5,655"/></clipPath>
<g clip-path="url(#cfc2)" fill="url(#gc2)"><rect x="1151.70" y="109.6" width="15.21" height="588.6" transform="matrix(1,0,0,0.99911,0,0.258)"/><rect x="1165.91" y="109.6" width="15.21" height="588.6" transform="matrix(1,0,0,0.99734,0,0.774)"/><rect x="1180.12" y="109.6" width="15.21" height="588.6" transform="matrix(1,0,0,0.99557,0,1.290)"/><rect x="1194.33" y="109.6" width="15.21" height="588.6" transform="matrix(1,0,0,0.99380,0,1.806)"/><rect x="1208.53" y="109.6" width="15.21" height="588.6" transform="matrix(1,0,0,0.99202,0,2.321)"/><rect x="1222.74" y="109.6" width="15.21" height="588.6" transform="matrix(1,0,0,0.99025,0,2.837)"/><rect x="1236.95" y="109.6" width="15.21" height="588.6" transform="matrix(1,0,0,0.98848,0,3.353)"/><rect x="1251.16" y="109.6" width="15.21" height="588.6" transform="matrix(1,0,0,0.98671,0,3.869)"/><rect x="1265.37" y="109.6" width="15.21" height="588.6" transform="matrix(1,0,0,0.98493,0,4.385)"/><rect x="1279.58" y="109.6" width="15.21" height="588.6" transform="matrix(1,0,0,0.98316,0,4.901)"/><rect x="1293.78" y="109.6" width="15.21" height="588.6" transform="matrix(1,0,0,0.98139,0,5.417)"/><rect x="1307.99" y="109.6" width="15.21" height="588.6" transform="matrix(1,0,0,0.97962,0,5.932)"/></g><g clip-path="url(#csc2)" fill="url(#gc2)" style="filter:brightness(1.05)"><rect x="1148.14" y="109.6" width="4.56" height="588.6" transform="matrix(1,0,0,0.99854,0,0.468)"/><rect x="1144.58" y="109.6" width="4.56" height="588.6" transform="matrix(1,0,0,0.99561,0,1.405)"/><rect x="1141.03" y="109.6" width="4.56" height="588.6" transform="matrix(1,0,0,0.99268,0,2.342)"/><rect x="1137.47" y="109.6" width="4.56" height="588.6" transform="matrix(1,0,0,0.98975,0,3.278)"/><rect x="1133.91" y="109.6" width="4.56" height="588.6" transform="matrix(1,0,0,0.98683,0,4.215)"/><rect x="1130.35" y="109.6" width="4.56" height="588.6" transform="matrix(1,0,0,0.98390,0,5.151)"/><rect x="1126.79" y="109.6" width="4.56" height="588.6" transform="matrix(1,0,0,0.98097,0,6.088)"/><rect x="1123.23" y="109.6" width="4.56" height="588.6" transform="matrix(1,0,0,0.97804,0,7.025)"/><rect x="1119.67" y="109.6" width="4.56" height="588.6" transform="matrix(1,0,0,0.97512,0,7.961)"/><rect x="1116.12" y="109.6" width="4.56" height="588.6" transform="matrix(1,0,0,0.97219,0,8.898)"/><rect x="1112.56" y="109.6" width="4.56" height="588.6" transform="matrix(1,0,0,0.96926,0,9.834)"/><rect x="1109.00" y="109.6" width="4.56" height="588.6" transform="matrix(1,0,0,0.96633,0,10.771)"/></g>
<polyline points="1109.5,146.9 1152.2,140.6 1322.7,143.8" fill="none" stroke="#000" stroke-opacity="0.5" stroke-width="0.8"/>
<line x1="1152.2" y1="140.6" x2="1152.2" y2="667.2" fill="none" stroke="#000" stroke-opacity="0.5" stroke-width="0.8"/>
<line x1="1322.7" y1="143.8" x2="1322.7" y2="659.2" fill="none" stroke="#000" stroke-opacity="0.35" stroke-width="0.7"/>
<line x1="1109.5" y1="146.9" x2="1109.5" y2="655" fill="none" stroke="#000" stroke-opacity="0.35" stroke-width="0.7"/>
<polyline points="1109.5,386 1152.2,389.5 1322.7,388.0" fill="none" stroke="#000" stroke-opacity="0.5" stroke-width="0.8"/>
<polyline points="1109.5,416.3 1152.2,419.2 1322.7,417.7" fill="none" stroke="#000" stroke-opacity="0.5" stroke-width="0.8"/>
<polyline points="1109.5,505.6 1152.2,512.3 1322.7,509" fill="none" stroke="#000" stroke-opacity="0.5" stroke-width="0.8"/>
<clipPath id="cfc3"><polygon points="1410.2,132.5 1577.7,136.3 1577.7,658.4 1410.2,666.4"/></clipPath>
<clipPath id="csc3"><polygon points="1367.4,138.9 1410.8,132.5 1410.8,666.4 1367.4,653.5"/></clipPath>
<g clip-path="url(#cfc3)" fill="url(#gc3)"><rect x="1410.00" y="101.5" width="14.93" height="595.9" transform="matrix(1,0,0,0.99908,0,0.280)"/><rect x="1423.93" y="101.5" width="14.93" height="595.9" transform="matrix(1,0,0,0.99724,0,0.841)"/><rect x="1437.87" y="101.5" width="14.93" height="595.9" transform="matrix(1,0,0,0.99540,0,1.402)"/><rect x="1451.80" y="101.5" width="14.93" height="595.9" transform="matrix(1,0,0,0.99355,0,1.962)"/><rect x="1465.73" y="101.5" width="14.93" height="595.9" transform="matrix(1,0,0,0.99171,0,2.523)"/><rect x="1479.67" y="101.5" width="14.93" height="595.9" transform="matrix(1,0,0,0.98987,0,3.084)"/><rect x="1493.60" y="101.5" width="14.93" height="595.9" transform="matrix(1,0,0,0.98803,0,3.645)"/><rect x="1507.53" y="101.5" width="14.93" height="595.9" transform="matrix(1,0,0,0.98619,0,4.205)"/><rect x="1521.47" y="101.5" width="14.93" height="595.9" transform="matrix(1,0,0,0.98434,0,4.766)"/><rect x="1535.40" y="101.5" width="14.93" height="595.9" transform="matrix(1,0,0,0.98250,0,5.327)"/><rect x="1549.33" y="101.5" width="14.93" height="595.9" transform="matrix(1,0,0,0.98066,0,5.887)"/><rect x="1563.27" y="101.5" width="14.93" height="595.9" transform="matrix(1,0,0,0.97882,0,6.448)"/></g><g clip-path="url(#csc3)" fill="url(#gc3)" style="filter:brightness(1.05)"><rect x="1406.41" y="101.5" width="4.59" height="595.9" transform="matrix(1,0,0,0.99849,0,0.466)"/><rect x="1402.82" y="101.5" width="4.59" height="595.9" transform="matrix(1,0,0,0.99548,0,1.399)"/><rect x="1399.22" y="101.5" width="4.59" height="595.9" transform="matrix(1,0,0,0.99247,0,2.331)"/><rect x="1395.63" y="101.5" width="4.59" height="595.9" transform="matrix(1,0,0,0.98946,0,3.264)"/><rect x="1392.04" y="101.5" width="4.59" height="595.9" transform="matrix(1,0,0,0.98644,0,4.196)"/><rect x="1388.45" y="101.5" width="4.59" height="595.9" transform="matrix(1,0,0,0.98343,0,5.129)"/><rect x="1384.86" y="101.5" width="4.59" height="595.9" transform="matrix(1,0,0,0.98042,0,6.061)"/><rect x="1381.27" y="101.5" width="4.59" height="595.9" transform="matrix(1,0,0,0.97741,0,6.994)"/><rect x="1377.68" y="101.5" width="4.59" height="595.9" transform="matrix(1,0,0,0.97439,0,7.926)"/><rect x="1374.08" y="101.5" width="4.59" height="595.9" transform="matrix(1,0,0,0.97138,0,8.859)"/><rect x="1370.49" y="101.5" width="4.59" height="595.9" transform="matrix(1,0,0,0.96837,0,9.791)"/><rect x="1366.90" y="101.5" width="4.59" height="595.9" transform="matrix(1,0,0,0.96536,0,10.724)"/></g>
<polyline points="1367.4,138.9 1410.5,132.5 1577.7,136.3" fill="none" stroke="#000" stroke-opacity="0.5" stroke-width="0.8"/>
<line x1="1410.5" y1="132.5" x2="1410.5" y2="666.4" fill="none" stroke="#000" stroke-opacity="0.5" stroke-width="0.8"/>
<line x1="1577.7" y1="136.3" x2="1577.7" y2="658.4" fill="none" stroke="#000" stroke-opacity="0.35" stroke-width="0.7"/>
<line x1="1367.4" y1="138.9" x2="1367.4" y2="653.5" fill="none" stroke="#000" stroke-opacity="0.35" stroke-width="0.7"/>
<polyline points="1367.4,366.6 1410.5,368.6 1577.7,367.6" fill="none" stroke="#000" stroke-opacity="0.5" stroke-width="0.8"/>
<polyline points="1367.4,412.9 1410.5,415.8 1577.7,413.5" fill="none" stroke="#000" stroke-opacity="0.5" stroke-width="0.8"/>
<polyline points="1367.4,503.3 1410.5,510.3 1577.7,505.3" fill="none" stroke="#000" stroke-opacity="0.5" stroke-width="0.8"/>
<clipPath id="cfc4"><polygon points="1658.5,113.9 1824.7,118.3 1824.7,660.8 1658.5,669.4"/></clipPath>
<clipPath id="csc4"><polygon points="1616.8,120.5 1659.1,113.9 1659.1,669.4 1616.8,655.5"/></clipPath>
<g clip-path="url(#cfc4)" fill="url(#gc4)"><rect x="1658.30" y="82.9" width="14.83" height="617.5" transform="matrix(1,0,0,0.99902,0,0.294)"/><rect x="1672.12" y="82.9" width="14.83" height="617.5" transform="matrix(1,0,0,0.99707,0,0.883)"/><rect x="1685.95" y="82.9" width="14.83" height="617.5" transform="matrix(1,0,0,0.99512,0,1.472)"/><rect x="1699.78" y="82.9" width="14.82" height="617.5" transform="matrix(1,0,0,0.99317,0,2.061)"/><rect x="1713.60" y="82.9" width="14.83" height="617.5" transform="matrix(1,0,0,0.99122,0,2.650)"/><rect x="1727.42" y="82.9" width="14.83" height="617.5" transform="matrix(1,0,0,0.98927,0,3.238)"/><rect x="1741.25" y="82.9" width="14.83" height="617.5" transform="matrix(1,0,0,0.98732,0,3.827)"/><rect x="1755.08" y="82.9" width="14.83" height="617.5" transform="matrix(1,0,0,0.98537,0,4.416)"/><rect x="1768.90" y="82.9" width="14.82" height="617.5" transform="matrix(1,0,0,0.98342,0,5.005)"/><rect x="1782.72" y="82.9" width="14.83" height="617.5" transform="matrix(1,0,0,0.98147,0,5.594)"/><rect x="1796.55" y="82.9" width="14.83" height="617.5" transform="matrix(1,0,0,0.97952,0,6.182)"/><rect x="1810.38" y="82.9" width="14.83" height="617.5" transform="matrix(1,0,0,0.97757,0,6.771)"/></g><g clip-path="url(#csc4)" fill="url(#gc4)" style="filter:brightness(1.05)"><rect x="1654.80" y="82.9" width="4.50" height="617.5" transform="matrix(1,0,0,0.99846,0,0.450)"/><rect x="1651.30" y="82.9" width="4.50" height="617.5" transform="matrix(1,0,0,0.99539,0,1.350)"/><rect x="1647.80" y="82.9" width="4.50" height="617.5" transform="matrix(1,0,0,0.99231,0,2.251)"/><rect x="1644.30" y="82.9" width="4.50" height="617.5" transform="matrix(1,0,0,0.98924,0,3.151)"/><rect x="1640.80" y="82.9" width="4.50" height="617.5" transform="matrix(1,0,0,0.98616,0,4.051)"/><rect x="1637.30" y="82.9" width="4.50" height="617.5" transform="matrix(1,0,0,0.98309,0,4.952)"/><rect x="1633.80" y="82.9" width="4.50" height="617.5" transform="matrix(1,0,0,0.98001,0,5.852)"/><rect x="1630.30" y="82.9" width="4.50" height="617.5" transform="matrix(1,0,0,0.97694,0,6.752)"/><rect x="1626.80" y="82.9" width="4.50" height="617.5" transform="matrix(1,0,0,0.97386,0,7.652)"/><rect x="1623.30" y="82.9" width="4.50" height="617.5" transform="matrix(1,0,0,0.97078,0,8.553)"/><rect x="1619.80" y="82.9" width="4.50" height="617.5" transform="matrix(1,0,0,0.96771,0,9.453)"/><rect x="1616.30" y="82.9" width="4.50" height="617.5" transform="matrix(1,0,0,0.96463,0,10.353)"/></g>
<polyline points="1616.8,120.5 1658.8,113.9 1824.7,118.3" fill="none" stroke="#000" stroke-opacity="0.5" stroke-width="0.8"/>
<line x1="1658.8" y1="113.9" x2="1658.8" y2="669.4" fill="none" stroke="#000" stroke-opacity="0.5" stroke-width="0.8"/>
<line x1="1824.7" y1="118.3" x2="1824.7" y2="660.8" fill="none" stroke="#000" stroke-opacity="0.35" stroke-width="0.7"/>
<line x1="1616.8" y1="120.5" x2="1616.8" y2="655.5" fill="none" stroke="#000" stroke-opacity="0.35" stroke-width="0.7"/>
<polyline points="1616.8,310.4 1658.8,311.4 1824.7,310.4" fill="none" stroke="#000" stroke-opacity="0.5" stroke-width="0.8"/>
<polyline points="1616.8,405.5 1658.8,408.5 1824.7,406" fill="none" stroke="#000" stroke-opacity="0.5" stroke-width="0.8"/>
<polyline points="1616.8,500 1658.8,506.3 1824.7,502.3" fill="none" stroke="#000" stroke-opacity="0.5" stroke-width="0.8"/>
<text x="1423.5" y="278" font-size="29" fill="#fff" text-anchor="start" font-weight="normal" style="font-style:italic;" >Air</text>
<text x="1403.5" y="402" font-size="29" fill="#fff" text-anchor="start" font-weight="normal" style="font-style:italic;" >Perovksite</text>
<text x="1397" y="477.5" font-size="29" fill="#fff" text-anchor="start" font-weight="normal" style="font-style:italic;" >Germanium</text>
<text x="1421.5" y="586.5" font-size="29" fill="#fff" style="font-style:italic">SiO<tspan dy="8.3" font-size="21">2</tspan></text>
<rect x="1862.7" y="232" width="7.3" height="375" fill="url(#gcb)"/>
<text x="1882.8" y="239" font-size="29" fill="#000" text-anchor="start" font-weight="normal" style="" >1</text>
<text x="1881.5" y="431.5" font-size="29" fill="#000" text-anchor="start" font-weight="normal" style="" >0.5</text>
<text x="1881.5" y="615.5" font-size="29" fill="#000" text-anchor="start" font-weight="normal" style="" >0</text>
</g>
<g id="panel-c">
<text x="0" y="776.5" font-size="43" fill="#000" text-anchor="start" font-weight="bold" style="" >c</text>
<clipPath id="clipc"><rect x="93.5" y="777.5" width="800.9" height="597.3"/></clipPath>
<g clip-path="url(#clipc)">
<polyline fill="none" stroke="#ff0080" stroke-width="0.45" points="93.3,841.2 101.3,841.5 109.2,842.5 117.2,844.1 125.2,846.3 133.1,849.2 141.1,852.7 149.1,856.9 157.0,861.7 165.0,867.1 172.9,873.2 180.9,879.9 188.9,887.2 196.8,895.1 204.8,903.7 212.8,912.8 220.7,922.5 228.7,932.9 236.7,943.7 244.6,955.2 252.6,967.1 260.6,979.6 268.5,992.5 276.5,1005.9 284.4,1019.7 292.4,1033.9 300.4,1048.4 308.3,1063.2 316.3,1078.2 324.3,1093.4 332.2,1108.7 340.2,1124.0 348.2,1139.3 356.1,1154.4 364.1,1169.4 372.1,1184.1 380.0,1198.4 388.0,1212.2 395.9,1225.5 403.9,1238.1 411.9,1250.0 419.8,1261.0 427.8,1271.1 435.8,1280.1 443.7,1288.1 451.7,1294.8 459.7,1300.4 467.6,1304.7 475.6,1307.6 483.6,1309.2 491.5,1309.5 499.5,1308.4 507.4,1305.9 515.4,1302.1 523.4,1297.0 531.3,1290.6 539.3,1283.1 547.3,1274.4 555.2,1264.7 563.2,1254.0 571.2,1242.5 579.1,1230.1 587.1,1217.1 595.1,1203.4 603.0,1189.3 611.0,1174.7 619.0,1159.8 626.9,1144.7 634.9,1129.5 642.8,1114.2 650.8,1098.9 658.8,1083.6 666.7,1068.5 674.7,1053.7 682.7,1039.1 690.6,1024.8 698.6,1010.8 706.6,997.3 714.5,984.2 722.5,971.6 730.5,959.4 738.4,947.8 746.4,936.7 754.3,926.2 762.3,916.2 770.3,906.9 778.2,898.1 786.2,890.0 794.2,882.4 802.1,875.5 810.1,869.2 818.1,863.6 826.0,858.5 834.0,854.1 842.0,850.4 849.9,847.3 857.9,844.8 865.8,843.0 873.8,841.8 881.8,841.2 889.7,841.3"/>
<g fill="#ff0080">
<circle cx="93.3" cy="841.2" r="4.95"/>
<circle cx="101.3" cy="841.5" r="4.95"/>
<circle cx="109.2" cy="842.5" r="4.95"/>
<circle cx="117.2" cy="844.1" r="4.95"/>
<circle cx="125.2" cy="846.3" r="4.95"/>
<circle cx="133.1" cy="849.2" r="4.95"/>
<circle cx="141.1" cy="852.7" r="4.95"/>
<circle cx="149.1" cy="856.9" r="4.95"/>
<circle cx="157.0" cy="861.7" r="4.95"/>
<circle cx="165.0" cy="867.1" r="4.95"/>
<circle cx="172.9" cy="873.2" r="4.95"/>
<circle cx="180.9" cy="879.9" r="4.95"/>
<circle cx="188.9" cy="887.2" r="4.95"/>
<circle cx="196.8" cy="895.1" r="4.95"/>
<circle cx="204.8" cy="903.7" r="4.95"/>
<circle cx="212.8" cy="912.8" r="4.95"/>
<circle cx="220.7" cy="922.5" r="4.95"/>
<circle cx="228.7" cy="932.9" r="4.95"/>
<circle cx="236.7" cy="943.7" r="4.95"/>
<circle cx="244.6" cy="955.2" r="4.95"/>
<circle cx="252.6" cy="967.1" r="4.95"/>
<circle cx="260.6" cy="979.6" r="4.95"/>
<circle cx="268.5" cy="992.5" r="4.95"/>
<circle cx="276.5" cy="1005.9" r="4.95"/>
<circle cx="284.4" cy="1019.7" r="4.95"/>
<circle cx="292.4" cy="1033.9" r="4.95"/>
<circle cx="300.4" cy="1048.4" r="4.95"/>
<circle cx="308.3" cy="1063.2" r="4.95"/>
<circle cx="316.3" cy="1078.2" r="4.95"/>
<circle cx="324.3" cy="1093.4" r="4.95"/>
<circle cx="332.2" cy="1108.7" r="4.95"/>
<circle cx="340.2" cy="1124.0" r="4.95"/>
<circle cx="348.2" cy="1139.3" r="4.95"/>
<circle cx="356.1" cy="1154.4" r="4.95"/>
<circle cx="364.1" cy="1169.4" r="4.95"/>
<circle cx="372.1" cy="1184.1" r="4.95"/>
<circle cx="380.0" cy="1198.4" r="4.95"/>
<circle cx="388.0" cy="1212.2" r="4.95"/>
<circle cx="395.9" cy="1225.5" r="4.95"/>
<circle cx="403.9" cy="1238.1" r="4.95"/>
<circle cx="411.9" cy="1250.0" r="4.95"/>
<circle cx="419.8" cy="1261.0" r="4.95"/>
<circle cx="427.8" cy="1271.1" r="4.95"/>
<circle cx="435.8" cy="1280.1" r="4.95"/>
<circle cx="443.7" cy="1288.1" r="4.95"/>
<circle cx="451.7" cy="1294.8" r="4.95"/>
<circle cx="459.7" cy="1300.4" r="4.95"/>
<circle cx="467.6" cy="1304.7" r="4.95"/>
<circle cx="475.6" cy="1307.6" r="4.95"/>
<circle cx="483.6" cy="1309.2" r="4.95"/>
<circle cx="491.5" cy="1309.5" r="4.95"/>
<circle cx="499.5" cy="1308.4" r="4.95"/>
<circle cx="507.4" cy="1305.9" r="4.95"/>
<circle cx="515.4" cy="1302.1" r="4.95"/>
<circle cx="523.4" cy="1297.0" r="4.95"/>
<circle cx="531.3" cy="1290.6" r="4.95"/>
<circle cx="539.3" cy="1283.1" r="4.95"/>
<circle cx="547.3" cy="1274.4" r="4.95"/>
<circle cx="555.2" cy="1264.7" r="4.95"/>
<circle cx="563.2" cy="1254.0" r="4.95"/>
<circle cx="571.2" cy="1242.5" r="4.95"/>
<circle cx="579.1" cy="1230.1" r="4.95"/>
<circle cx="587.1" cy="1217.1" r="4.95"/>
<circle cx="595.1" cy="1203.4" r="4.95"/>
<circle cx="603.0" cy="1189.3" r="4.95"/>
<circle cx="611.0" cy="1174.7" r="4.95"/>
<circle cx="619.0" cy="1159.8" r="4.95"/>
<circle cx="626.9" cy="1144.7" r="4.95"/>
<circle cx="634.9" cy="1129.5" r="4.95"/>
<circle cx="642.8" cy="1114.2" r="4.95"/>
<circle cx="650.8" cy="1098.9" r="4.95"/>
<circle cx="658.8" cy="1083.6" r="4.95"/>
<circle cx="666.7" cy="1068.5" r="4.95"/>
<circle cx="674.7" cy="1053.7" r="4.95"/>
<circle cx="682.7" cy="1039.1" r="4.95"/>
<circle cx="690.6" cy="1024.8" r="4.95"/>
<circle cx="698.6" cy="1010.8" r="4.95"/>
<circle cx="706.6" cy="997.3" r="4.95"/>
<circle cx="714.5" cy="984.2" r="4.95"/>
<circle cx="722.5" cy="971.6" r="4.95"/>
<circle cx="730.5" cy="959.4" r="4.95"/>
<circle cx="738.4" cy="947.8" r="4.95"/>
<circle cx="746.4" cy="936.7" r="4.95"/>
<circle cx="754.3" cy="926.2" r="4.95"/>
<circle cx="762.3" cy="916.2" r="4.95"/>
<circle cx="770.3" cy="906.9" r="4.95"/>
<circle cx="778.2" cy="898.1" r="4.95"/>
<circle cx="786.2" cy="890.0" r="4.95"/>
<circle cx="794.2" cy="882.4" r="4.95"/>
<circle cx="802.1" cy="875.5" r="4.95"/>
<circle cx="810.1" cy="869.2" r="4.95"/>
<circle cx="818.1" cy="863.6" r="4.95"/>
<circle cx="826.0" cy="858.5" r="4.95"/>
<circle cx="834.0" cy="854.1" r="4.95"/>
<circle cx="842.0" cy="850.4" r="4.95"/>
<circle cx="849.9" cy="847.3" r="4.95"/>
<circle cx="857.9" cy="844.8" r="4.95"/>
<circle cx="865.8" cy="843.0" r="4.95"/>
<circle cx="873.8" cy="841.8" r="4.95"/>
<circle cx="881.8" cy="841.2" r="4.95"/>
<circle cx="889.7" cy="841.3" r="4.95"/>
</g></g>
<g stroke="#000" fill="none">
<line x1="93.5" y1="776.7" x2="93.5" y2="1375.8999999999999" stroke-width="2.3"/>
<line x1="93.5" y1="1374.8" x2="895.0" y2="1374.8" stroke-width="2.3"/>
<line x1="93.5" y1="777.5" x2="895.0" y2="777.5" stroke-width="1.9"/>
<line x1="894.4" y1="777.5" x2="894.4" y2="1374.8" stroke-width="1.4"/>
<path d="M93.30,1374.8v-13.6 M159.67,1374.8v-7.4 M226.04,1374.8v-13.6 M292.41,1374.8v-7.4 M358.78,1374.8v-13.6 M425.15,1374.8v-7.4 M491.52,1374.8v-13.6 M557.89,1374.8v-7.4 M624.26,1374.8v-13.6 M690.63,1374.8v-7.4 M757.00,1374.8v-13.6 M823.37,1374.8v-7.4 M889.74,1374.8v-13.6 M93.5,1334.70h13.6 M93.5,1294.90h7.4 M93.5,1255.10h13.6 M93.5,1215.30h7.4 M93.5,1175.50h13.6 M93.5,1135.70h7.4 M93.5,1095.90h13.6 M93.5,1056.10h7.4 M93.5,1016.30h13.6 M93.5,976.50h7.4 M93.5,936.70h13.6 M93.5,896.90h7.4 M93.5,857.10h13.6 M93.5,817.30h7.4" stroke-width="1.9"/>
</g>
<g font-size="29" fill="#000">
<text x="93.3" y="1408.5" text-anchor="middle">0</text>
<text x="226.0" y="1408.5" text-anchor="middle">50</text>
<text x="358.8" y="1408.5" text-anchor="middle">100</text>
<text x="491.5" y="1408.5" text-anchor="middle">150</text>
<text x="623.7" y="1408.5" text-anchor="middle">200</text>
<text x="756.0" y="1408.5" text-anchor="middle">250</text>
<text x="888.5" y="1408.5" text-anchor="middle">300</text>
<text x="80.2" y="1344.9" text-anchor="end">5</text>
<text x="80.2" y="1265.3" text-anchor="end">10</text>
<text x="80.2" y="1185.7" text-anchor="end">15</text>
<text x="80.2" y="1106.1" text-anchor="end">20</text>
<text x="80.2" y="1026.5" text-anchor="end">25</text>
<text x="80.2" y="946.9" text-anchor="end">30</text>
<text x="80.2" y="867.3" text-anchor="end">35</text>
<text x="80.2" y="787.7" text-anchor="end">40</text>
</g>
<text x="493" y="1452.4" font-size="29" text-anchor="middle">Thickness (nm)</text>
<text transform="translate(21,1076) rotate(-90)" font-size="29" text-anchor="middle">Reflectance (%)</text>
<line x1="342.5" y1="834.5" x2="409" y2="834.5" stroke="#ff0080" stroke-width="0.8"/>
<circle cx="375.5" cy="834.5" r="4.95" fill="#ff0080"/>
<text x="419" y="843.5" font-size="29"><tspan style="font-style:italic">R</tspan> @<tspan x="484.8">1550 nm</tspan></text>
</g>
<g id="panel-d">
<text x="947" y="776.5" font-size="43" fill="#000" text-anchor="start" font-weight="bold" style="" >d</text>
<defs>
<radialGradient id="sr" cx="0.37" cy="0.35" r="0.24"><stop offset="0" stop-color="#fff"/><stop offset="0.5" stop-color="#ff7070"/><stop offset="1" stop-color="#ff0000"/></radialGradient>
<radialGradient id="sb" cx="0.37" cy="0.35" r="0.25"><stop offset="0" stop-color="#fff"/><stop offset="0.5" stop-color="#7070ff"/><stop offset="1" stop-color="#0000ff"/></radialGradient>
<radialGradient id="sm" cx="0.37" cy="0.35" r="0.25"><stop offset="0" stop-color="#fff"/><stop offset="0.5" stop-color="#ff70ff"/><stop offset="1" stop-color="#ff00ff"/></radialGradient>
<radialGradient id="sk" cx="0.37" cy="0.35" r="0.27"><stop offset="0" stop-color="#eee"/><stop offset="0.5" stop-color="#707070"/><stop offset="1" stop-color="#000000"/></radialGradient>
</defs>
<clipPath id="clipd"><rect x="1062.3" y="778.0" width="811.3" height="596.2"/></clipPath>
<g clip-path="url(#clipd)">
<g fill="url(#sr)"><circle cx="1085.5" cy="1236.2" r="4.8"/><circle cx="1093.4" cy="1207.1" r="4.8"/><circle cx="1101.2" cy="1183.6" r="4.8"/><circle cx="1109.1" cy="1162.1" r="4.8"/><circle cx="1117.0" cy="1143.6" r="4.8"/><circle cx="1124.9" cy="1126.7" r="4.8"/><circle cx="1132.8" cy="1110.9" r="4.8"/><circle cx="1140.7" cy="1096.8" r="4.8"/><circle cx="1148.5" cy="1083.7" r="4.8"/><circle cx="1156.4" cy="1070.9" r="4.8"/><circle cx="1164.3" cy="1058.8" r="4.8"/><circle cx="1172.2" cy="1047.5" r="4.8"/><circle cx="1180.1" cy="1036.5" r="4.8"/><circle cx="1187.9" cy="1026.0" r="4.8"/><circle cx="1195.8" cy="1016.2" r="4.8"/><circle cx="1203.7" cy="1006.7" r="4.8"/><circle cx="1211.6" cy="997.8" r="4.8"/><circle cx="1219.5" cy="989.0" r="4.8"/><circle cx="1227.4" cy="981.0" r="4.8"/><circle cx="1235.2" cy="972.8" r="4.8"/><circle cx="1243.1" cy="964.8" r="4.8"/><circle cx="1251.0" cy="958.1" r="4.8"/><circle cx="1258.9" cy="951.2" r="4.8"/><circle cx="1266.8" cy="944.8" r="4.8"/><circle cx="1274.6" cy="938.8" r="4.8"/><circle cx="1282.5" cy="933.1" r="4.8"/><circle cx="1290.4" cy="927.7" r="4.8"/><circle cx="1298.3" cy="922.7" r="4.8"/><circle cx="1306.2" cy="918.2" r="4.8"/><circle cx="1314.1" cy="914.3" r="4.8"/><circle cx="1321.9" cy="910.9" r="4.8"/><circle cx="1329.8" cy="907.9" r="4.8"/><circle cx="1337.7" cy="905.1" r="4.8"/><circle cx="1345.6" cy="902.7" r="4.8"/><circle cx="1353.5" cy="900.6" r="4.8"/><circle cx="1361.4" cy="898.8" r="4.8"/><circle cx="1369.2" cy="897.3" r="4.8"/><circle cx="1377.1" cy="895.9" r="4.8"/><circle cx="1385.0" cy="894.8" r="4.8"/><circle cx="1392.9" cy="893.7" r="4.8"/><circle cx="1400.8" cy="892.8" r="4.8"/><circle cx="1408.6" cy="892.0" r="4.8"/><circle cx="1416.5" cy="891.3" r="4.8"/><circle cx="1424.4" cy="890.7" r="4.8"/><circle cx="1432.3" cy="890.1" r="4.8"/><circle cx="1440.2" cy="889.7" r="4.8"/><circle cx="1448.1" cy="889.2" r="4.8"/><circle cx="1455.9" cy="888.8" r="4.8"/><circle cx="1463.8" cy="888.4" r="4.8"/><circle cx="1471.7" cy="888.0" r="4.8"/><circle cx="1479.6" cy="887.5" r="4.8"/><circle cx="1487.5" cy="887.1" r="4.8"/><circle cx="1495.3" cy="886.5" r="4.8"/><circle cx="1503.2" cy="886.0" r="4.8"/><circle cx="1511.1" cy="885.5" r="4.8"/><circle cx="1519.0" cy="884.9" r="4.8"/><circle cx="1526.9" cy="884.4" r="4.8"/><circle cx="1534.8" cy="883.9" r="4.8"/><circle cx="1542.6" cy="883.3" r="4.8"/><circle cx="1550.5" cy="882.8" r="4.8"/><circle cx="1558.4" cy="882.3" r="4.8"/><circle cx="1566.3" cy="881.8" r="4.8"/><circle cx="1574.2" cy="881.3" r="4.8"/><circle cx="1582.0" cy="880.8" r="4.8"/><circle cx="1589.9" cy="880.3" r="4.8"/><circle cx="1597.8" cy="879.8" r="4.8"/><circle cx="1605.7" cy="879.2" r="4.8"/><circle cx="1613.6" cy="878.6" r="4.8"/><circle cx="1621.5" cy="878.0" r="4.8"/><circle cx="1629.3" cy="877.4" r="4.8"/><circle cx="1637.2" cy="876.8" r="4.8"/><circle cx="1645.1" cy="876.2" r="4.8"/><circle cx="1653.0" cy="875.6" r="4.8"/><circle cx="1660.9" cy="875.0" r="4.8"/><circle cx="1668.8" cy="874.4" r="4.8"/><circle cx="1676.6" cy="873.8" r="4.8"/><circle cx="1684.5" cy="873.1" r="4.8"/><circle cx="1692.4" cy="872.3" r="4.8"/><circle cx="1700.3" cy="871.4" r="4.8"/><circle cx="1708.2" cy="870.6" r="4.8"/><circle cx="1716.0" cy="869.8" r="4.8"/><circle cx="1723.9" cy="869.2" r="4.8"/><circle cx="1731.8" cy="868.5" r="4.8"/><circle cx="1739.7" cy="867.8" r="4.8"/><circle cx="1747.6" cy="867.1" r="4.8"/><circle cx="1755.5" cy="866.4" r="4.8"/><circle cx="1763.3" cy="865.7" r="4.8"/><circle cx="1771.2" cy="865.1" r="4.8"/><circle cx="1779.1" cy="864.4" r="4.8"/><circle cx="1787.0" cy="863.7" r="4.8"/><circle cx="1794.9" cy="862.8" r="4.8"/><circle cx="1802.7" cy="862.0" r="4.8"/><circle cx="1810.6" cy="861.1" r="4.8"/><circle cx="1818.5" cy="860.3" r="4.8"/><circle cx="1826.4" cy="859.5" r="4.8"/><circle cx="1834.3" cy="858.6" r="4.8"/><circle cx="1842.2" cy="857.8" r="4.8"/><circle cx="1850.0" cy="856.9" r="4.8"/><circle cx="1857.9" cy="856.0" r="4.8"/><circle cx="1865.8" cy="855.2" r="4.8"/><circle cx="1077.6" cy="1239.9" r="4.8"/><circle cx="1069.7" cy="1317.5" r="4.8"/></g>
<g fill="url(#sb)"><circle cx="1085.5" cy="1270.9" r="5.5"/><circle cx="1093.4" cy="1241.0" r="5.5"/><circle cx="1101.2" cy="1216.6" r="5.5"/><circle cx="1109.1" cy="1195.0" r="5.5"/><circle cx="1117.0" cy="1176.3" r="5.5"/><circle cx="1124.9" cy="1159.0" r="5.5"/><circle cx="1132.8" cy="1142.8" r="5.5"/><circle cx="1140.7" cy="1128.5" r="5.5"/><circle cx="1148.5" cy="1114.6" r="5.5"/><circle cx="1156.4" cy="1101.8" r="5.5"/><circle cx="1164.3" cy="1090.0" r="5.5"/><circle cx="1172.2" cy="1078.7" r="5.5"/><circle cx="1180.1" cy="1067.4" r="5.5"/><circle cx="1187.9" cy="1057.2" r="5.5"/><circle cx="1195.8" cy="1047.1" r="5.5"/><circle cx="1203.7" cy="1037.3" r="5.5"/><circle cx="1211.6" cy="1028.2" r="5.5"/><circle cx="1219.5" cy="1019.6" r="5.5"/><circle cx="1227.4" cy="1011.2" r="5.5"/><circle cx="1235.2" cy="1003.9" r="5.5"/><circle cx="1243.1" cy="995.7" r="5.5"/><circle cx="1251.0" cy="989.0" r="5.5"/><circle cx="1258.9" cy="982.2" r="5.5"/><circle cx="1266.8" cy="975.8" r="5.5"/><circle cx="1274.6" cy="970.0" r="5.5"/><circle cx="1282.5" cy="964.6" r="5.5"/><circle cx="1290.4" cy="959.7" r="5.5"/><circle cx="1298.3" cy="955.2" r="5.5"/><circle cx="1306.2" cy="951.2" r="5.5"/><circle cx="1314.1" cy="947.4" r="5.5"/><circle cx="1321.9" cy="944.0" r="5.5"/><circle cx="1329.8" cy="941.2" r="5.5"/><circle cx="1337.7" cy="938.7" r="5.5"/><circle cx="1345.6" cy="936.7" r="5.5"/><circle cx="1353.5" cy="934.9" r="5.5"/><circle cx="1361.4" cy="933.4" r="5.5"/><circle cx="1369.2" cy="931.9" r="5.5"/><circle cx="1377.1" cy="930.6" r="5.5"/><circle cx="1385.0" cy="929.5" r="5.5"/><circle cx="1392.9" cy="928.4" r="5.5"/><circle cx="1400.8" cy="927.4" r="5.5"/><circle cx="1408.6" cy="926.5" r="5.5"/><circle cx="1416.5" cy="925.7" r="5.5"/><circle cx="1424.4" cy="925.0" r="5.5"/><circle cx="1432.3" cy="924.3" r="5.5"/><circle cx="1440.2" cy="923.6" r="5.5"/><circle cx="1448.1" cy="922.9" r="5.5"/><circle cx="1455.9" cy="922.3" r="5.5"/><circle cx="1463.8" cy="921.7" r="5.5"/><circle cx="1471.7" cy="921.2" r="5.5"/><circle cx="1479.6" cy="920.6" r="5.5"/><circle cx="1487.5" cy="920.0" r="5.5"/><circle cx="1495.3" cy="919.5" r="5.5"/><circle cx="1503.2" cy="918.9" r="5.5"/><circle cx="1511.1" cy="918.3" r="5.5"/><circle cx="1519.0" cy="917.8" r="5.5"/><circle cx="1526.9" cy="917.2" r="5.5"/><circle cx="1534.8" cy="916.6" r="5.5"/><circle cx="1542.6" cy="916.1" r="5.5"/><circle cx="1550.5" cy="915.5" r="5.5"/><circle cx="1558.4" cy="914.9" r="5.5"/><circle cx="1566.3" cy="914.3" r="5.5"/><circle cx="1574.2" cy="913.8" r="5.5"/><circle cx="1582.0" cy="913.2" r="5.5"/><circle cx="1589.9" cy="912.6" r="5.5"/><circle cx="1597.8" cy="912.0" r="5.5"/><circle cx="1605.7" cy="911.3" r="5.5"/><circle cx="1613.6" cy="910.6" r="5.5"/><circle cx="1621.5" cy="909.9" r="5.5"/><circle cx="1629.3" cy="909.2" r="5.5"/><circle cx="1637.2" cy="908.5" r="5.5"/><circle cx="1645.1" cy="907.7" r="5.5"/><circle cx="1653.0" cy="907.0" r="5.5"/><circle cx="1660.9" cy="906.3" r="5.5"/><circle cx="1668.8" cy="905.6" r="5.5"/><circle cx="1676.6" cy="904.9" r="5.5"/><circle cx="1684.5" cy="904.1" r="5.5"/><circle cx="1692.4" cy="903.3" r="5.5"/><circle cx="1700.3" cy="902.5" r="5.5"/><circle cx="1708.2" cy="901.7" r="5.5"/><circle cx="1716.0" cy="901.0" r="5.5"/><circle cx="1723.9" cy="900.2" r="5.5"/><circle cx="1731.8" cy="899.5" r="5.5"/><circle cx="1739.7" cy="898.8" r="5.5"/><circle cx="1747.6" cy="898.0" r="5.5"/><circle cx="1755.5" cy="897.3" r="5.5"/><circle cx="1763.3" cy="896.6" r="5.5"/><circle cx="1771.2" cy="895.8" r="5.5"/><circle cx="1779.1" cy="895.1" r="5.5"/><circle cx="1787.0" cy="894.4" r="5.5"/><circle cx="1794.9" cy="893.6" r="5.5"/><circle cx="1802.7" cy="892.8" r="5.5"/><circle cx="1810.6" cy="892.0" r="5.5"/><circle cx="1818.5" cy="891.2" r="5.5"/><circle cx="1826.4" cy="890.4" r="5.5"/><circle cx="1834.3" cy="889.7" r="5.5"/><circle cx="1842.2" cy="888.9" r="5.5"/><circle cx="1850.0" cy="888.1" r="5.5"/><circle cx="1857.9" cy="887.3" r="5.5"/><circle cx="1865.8" cy="886.5" r="5.5"/><circle cx="1077.6" cy="1269.8" r="5.5"/><circle cx="1069.7" cy="1356.2" r="5.5"/></g>
<g fill="url(#sm)"><circle cx="1085.5" cy="1335.6" r="5.8"/><circle cx="1093.4" cy="1290.8" r="5.8"/><circle cx="1101.2" cy="1257.5" r="5.8"/><circle cx="1109.1" cy="1229.6" r="5.8"/><circle cx="1117.0" cy="1206.0" r="5.8"/><circle cx="1124.9" cy="1185.6" r="5.8"/><circle cx="1132.8" cy="1167.7" r="5.8"/><circle cx="1140.7" cy="1151.1" r="5.8"/><circle cx="1148.5" cy="1134.5" r="5.8"/><circle cx="1156.4" cy="1118.0" r="5.8"/><circle cx="1164.3" cy="1105.1" r="5.8"/><circle cx="1172.2" cy="1093.1" r="5.8"/><circle cx="1180.1" cy="1081.0" r="5.8"/><circle cx="1187.9" cy="1070.5" r="5.8"/><circle cx="1195.8" cy="1059.9" r="5.8"/><circle cx="1203.7" cy="1050.1" r="5.8"/><circle cx="1211.6" cy="1040.3" r="5.8"/><circle cx="1219.5" cy="1030.5" r="5.8"/><circle cx="1227.4" cy="1021.5" r="5.8"/><circle cx="1235.2" cy="1012.9" r="5.8"/><circle cx="1243.1" cy="1005.3" r="5.8"/><circle cx="1251.0" cy="997.8" r="5.8"/><circle cx="1258.9" cy="990.5" r="5.8"/><circle cx="1266.8" cy="984.0" r="5.8"/><circle cx="1274.6" cy="978.1" r="5.8"/><circle cx="1282.5" cy="972.6" r="5.8"/><circle cx="1290.4" cy="967.6" r="5.8"/><circle cx="1298.3" cy="963.0" r="5.8"/><circle cx="1306.2" cy="958.9" r="5.8"/><circle cx="1314.1" cy="955.2" r="5.8"/><circle cx="1321.9" cy="951.9" r="5.8"/><circle cx="1329.8" cy="949.0" r="5.8"/><circle cx="1337.7" cy="946.3" r="5.8"/><circle cx="1345.6" cy="944.1" r="5.8"/><circle cx="1353.5" cy="942.2" r="5.8"/><circle cx="1361.4" cy="940.5" r="5.8"/><circle cx="1369.2" cy="939.0" r="5.8"/><circle cx="1377.1" cy="937.6" r="5.8"/><circle cx="1385.0" cy="936.4" r="5.8"/><circle cx="1392.9" cy="935.4" r="5.8"/><circle cx="1400.8" cy="934.5" r="5.8"/><circle cx="1408.6" cy="933.7" r="5.8"/><circle cx="1416.5" cy="932.9" r="5.8"/><circle cx="1424.4" cy="932.2" r="5.8"/><circle cx="1432.3" cy="931.5" r="5.8"/><circle cx="1440.2" cy="930.8" r="5.8"/><circle cx="1448.1" cy="930.1" r="5.8"/><circle cx="1455.9" cy="929.5" r="5.8"/><circle cx="1463.8" cy="928.9" r="5.8"/><circle cx="1471.7" cy="928.4" r="5.8"/><circle cx="1479.6" cy="927.8" r="5.8"/><circle cx="1487.5" cy="927.2" r="5.8"/><circle cx="1495.3" cy="926.6" r="5.8"/><circle cx="1503.2" cy="926.1" r="5.8"/><circle cx="1511.1" cy="925.5" r="5.8"/><circle cx="1519.0" cy="924.9" r="5.8"/><circle cx="1526.9" cy="924.3" r="5.8"/><circle cx="1534.8" cy="923.8" r="5.8"/><circle cx="1542.6" cy="923.2" r="5.8"/><circle cx="1550.5" cy="922.6" r="5.8"/><circle cx="1558.4" cy="922.1" r="5.8"/><circle cx="1566.3" cy="921.5" r="5.8"/><circle cx="1574.2" cy="921.0" r="5.8"/><circle cx="1582.0" cy="920.5" r="5.8"/><circle cx="1589.9" cy="920.0" r="5.8"/><circle cx="1597.8" cy="919.4" r="5.8"/><circle cx="1605.7" cy="918.8" r="5.8"/><circle cx="1613.6" cy="918.2" r="5.8"/><circle cx="1621.5" cy="917.6" r="5.8"/><circle cx="1629.3" cy="917.0" r="5.8"/><circle cx="1637.2" cy="916.4" r="5.8"/><circle cx="1645.1" cy="915.8" r="5.8"/><circle cx="1653.0" cy="915.3" r="5.8"/><circle cx="1660.9" cy="914.7" r="5.8"/><circle cx="1668.8" cy="914.1" r="5.8"/><circle cx="1676.6" cy="913.5" r="5.8"/><circle cx="1684.5" cy="912.8" r="5.8"/><circle cx="1692.4" cy="911.8" r="5.8"/><circle cx="1700.3" cy="910.9" r="5.8"/><circle cx="1708.2" cy="910.0" r="5.8"/><circle cx="1716.0" cy="909.2" r="5.8"/><circle cx="1723.9" cy="908.5" r="5.8"/><circle cx="1731.8" cy="907.9" r="5.8"/><circle cx="1739.7" cy="907.2" r="5.8"/><circle cx="1747.6" cy="906.6" r="5.8"/><circle cx="1755.5" cy="905.9" r="5.8"/><circle cx="1763.3" cy="905.3" r="5.8"/><circle cx="1771.2" cy="904.6" r="5.8"/><circle cx="1779.1" cy="904.0" r="5.8"/><circle cx="1787.0" cy="903.3" r="5.8"/><circle cx="1794.9" cy="902.4" r="5.8"/><circle cx="1802.7" cy="901.5" r="5.8"/><circle cx="1810.6" cy="900.7" r="5.8"/><circle cx="1818.5" cy="899.8" r="5.8"/><circle cx="1826.4" cy="898.9" r="5.8"/><circle cx="1834.3" cy="898.0" r="5.8"/><circle cx="1842.2" cy="897.1" r="5.8"/><circle cx="1850.0" cy="896.3" r="5.8"/><circle cx="1857.9" cy="895.4" r="5.8"/><circle cx="1865.8" cy="894.5" r="5.8"/><circle cx="1077.6" cy="1335.2" r="5.8"/></g>
<g fill="url(#sk)"><circle cx="1085.5" cy="1313.9" r="5.6"/><circle cx="1093.4" cy="1273.6" r="5.6"/><circle cx="1101.2" cy="1242.8" r="5.6"/><circle cx="1109.1" cy="1217.4" r="5.6"/><circle cx="1117.0" cy="1196.4" r="5.6"/><circle cx="1124.9" cy="1178.2" r="5.6"/><circle cx="1132.8" cy="1162.3" r="5.6"/><circle cx="1140.7" cy="1147.8" r="5.6"/><circle cx="1148.5" cy="1135.3" r="5.6"/><circle cx="1156.4" cy="1123.5" r="5.6"/><circle cx="1164.3" cy="1112.9" r="5.6"/><circle cx="1172.2" cy="1103.2" r="5.6"/><circle cx="1180.1" cy="1093.9" r="5.6"/><circle cx="1187.9" cy="1085.5" r="5.6"/><circle cx="1195.8" cy="1077.5" r="5.6"/><circle cx="1203.7" cy="1070.0" r="5.6"/><circle cx="1211.6" cy="1062.9" r="5.6"/><circle cx="1219.5" cy="1056.4" r="5.6"/><circle cx="1227.4" cy="1050.1" r="5.6"/><circle cx="1235.2" cy="1044.6" r="5.6"/><circle cx="1243.1" cy="1039.4" r="5.6"/><circle cx="1251.0" cy="1034.7" r="5.6"/><circle cx="1258.9" cy="1029.8" r="5.6"/><circle cx="1266.8" cy="1025.1" r="5.6"/><circle cx="1274.6" cy="1020.8" r="5.6"/><circle cx="1282.5" cy="1016.6" r="5.6"/><circle cx="1290.4" cy="1012.7" r="5.6"/><circle cx="1298.3" cy="1009.0" r="5.6"/><circle cx="1306.2" cy="1005.5" r="5.6"/><circle cx="1314.1" cy="1002.1" r="5.6"/><circle cx="1321.9" cy="998.9" r="5.6"/><circle cx="1329.8" cy="995.9" r="5.6"/><circle cx="1337.7" cy="993.0" r="5.6"/><circle cx="1345.6" cy="990.4" r="5.6"/><circle cx="1353.5" cy="988.0" r="5.6"/><circle cx="1361.4" cy="985.8" r="5.6"/><circle cx="1369.2" cy="983.7" r="5.6"/><circle cx="1377.1" cy="981.6" r="5.6"/><circle cx="1385.0" cy="979.7" r="5.6"/><circle cx="1392.9" cy="977.9" r="5.6"/><circle cx="1400.8" cy="976.4" r="5.6"/><circle cx="1408.6" cy="975.0" r="5.6"/><circle cx="1416.5" cy="973.7" r="5.6"/><circle cx="1424.4" cy="972.5" r="5.6"/><circle cx="1432.3" cy="971.4" r="5.6"/><circle cx="1440.2" cy="970.4" r="5.6"/><circle cx="1448.1" cy="969.6" r="5.6"/><circle cx="1455.9" cy="968.9" r="5.6"/><circle cx="1463.8" cy="968.2" r="5.6"/><circle cx="1471.7" cy="967.4" r="5.6"/><circle cx="1479.6" cy="966.8" r="5.6"/><circle cx="1487.5" cy="966.2" r="5.6"/><circle cx="1495.3" cy="965.6" r="5.6"/><circle cx="1503.2" cy="965.1" r="5.6"/><circle cx="1511.1" cy="964.5" r="5.6"/><circle cx="1519.0" cy="964.0" r="5.6"/><circle cx="1526.9" cy="963.4" r="5.6"/><circle cx="1534.8" cy="962.9" r="5.6"/><circle cx="1542.6" cy="962.4" r="5.6"/><circle cx="1550.5" cy="961.9" r="5.6"/><circle cx="1558.4" cy="961.5" r="5.6"/><circle cx="1566.3" cy="961.2" r="5.6"/><circle cx="1574.2" cy="961.0" r="5.6"/><circle cx="1582.0" cy="960.7" r="5.6"/><circle cx="1589.9" cy="960.4" r="5.6"/><circle cx="1597.8" cy="960.1" r="5.6"/><circle cx="1605.7" cy="959.8" r="5.6"/><circle cx="1613.6" cy="959.4" r="5.6"/><circle cx="1621.5" cy="959.0" r="5.6"/><circle cx="1629.3" cy="958.7" r="5.6"/><circle cx="1637.2" cy="958.4" r="5.6"/><circle cx="1645.1" cy="958.1" r="5.6"/><circle cx="1653.0" cy="957.8" r="5.6"/><circle cx="1660.9" cy="957.5" r="5.6"/><circle cx="1668.8" cy="957.2" r="5.6"/><circle cx="1676.6" cy="956.9" r="5.6"/><circle cx="1684.5" cy="956.6" r="5.6"/><circle cx="1692.4" cy="956.1" r="5.6"/><circle cx="1700.3" cy="955.6" r="5.6"/><circle cx="1708.2" cy="955.1" r="5.6"/><circle cx="1716.0" cy="954.7" r="5.6"/><circle cx="1723.9" cy="954.4" r="5.6"/><circle cx="1731.8" cy="954.1" r="5.6"/><circle cx="1739.7" cy="953.8" r="5.6"/><circle cx="1747.6" cy="953.5" r="5.6"/><circle cx="1755.5" cy="953.2" r="5.6"/><circle cx="1763.3" cy="952.8" r="5.6"/><circle cx="1771.2" cy="952.5" r="5.6"/><circle cx="1779.1" cy="952.2" r="5.6"/><circle cx="1787.0" cy="951.9" r="5.6"/><circle cx="1794.9" cy="951.5" r="5.6"/><circle cx="1802.7" cy="951.2" r="5.6"/><circle cx="1810.6" cy="950.8" r="5.6"/><circle cx="1818.5" cy="950.5" r="5.6"/><circle cx="1826.4" cy="950.1" r="5.6"/><circle cx="1834.3" cy="949.7" r="5.6"/><circle cx="1842.2" cy="949.4" r="5.6"/><circle cx="1850.0" cy="949.0" r="5.6"/><circle cx="1857.9" cy="948.7" r="5.6"/><circle cx="1865.8" cy="948.3" r="5.6"/><circle cx="1077.6" cy="1357.8" r="5.6"/></g>
</g>
<g stroke="#000" fill="none">
<line x1="1062.3" y1="777.2" x2="1062.3" y2="1375.3" stroke-width="2.3"/>
<line x1="1062.3" y1="1374.2" x2="1874.1999999999998" y2="1374.2" stroke-width="2.3"/>
<line x1="1062.3" y1="778.0" x2="1874.1999999999998" y2="778.0" stroke-width="1.9"/>
<line x1="1873.6" y1="778.0" x2="1873.6" y2="1374.2" stroke-width="1.4"/>
<path d="M1078.25,1374.2v-13.6 M1157.00,1374.2v-7.4 M1235.75,1374.2v-13.6 M1314.50,1374.2v-7.4 M1393.25,1374.2v-13.6 M1472.00,1374.2v-7.4 M1550.75,1374.2v-13.6 M1629.50,1374.2v-7.4 M1708.25,1374.2v-13.6 M1787.00,1374.2v-7.4 M1865.75,1374.2v-13.6 M1062.3,1348.88h7.4 M1062.3,1327.95h7.4 M1062.3,1309.81h7.4 M1062.3,1293.81h7.4 M1062.3,1279.50h13.6 M1062.3,1185.35h7.4 M1062.3,1130.28h7.4 M1062.3,1091.21h7.4 M1062.3,1060.90h7.4 M1062.3,1036.13h7.4 M1062.3,1015.20h7.4 M1062.3,997.06h7.4 M1062.3,981.06h7.4 M1062.3,966.75h13.6 M1062.3,872.60h7.4 M1062.3,817.53h7.4" stroke-width="1.9"/>
</g>
<g font-size="29" fill="#000">
<text x="1078.8" y="1407.1" text-anchor="middle">0.0</text>
<text x="1236.2" y="1407.1" text-anchor="middle">0.2</text>
<text x="1393.8" y="1407.1" text-anchor="middle">0.4</text>
<text x="1551.2" y="1407.1" text-anchor="middle">0.6</text>
<text x="1708.8" y="1407.1" text-anchor="middle">0.8</text>
<text x="1866.2" y="1407.1" text-anchor="middle">1.0</text>
<text x="995" y="975.5">10<tspan dx="-1.2" dy="-12.5" font-size="20.5">−4</tspan></text>
<text x="995" y="1288.3">10<tspan dx="-1.2" dy="-12.5" font-size="20.5">−5</tspan></text>
</g>
<text x="1468" y="1450.8" font-size="29" text-anchor="middle">Voltage (V)</text>
<text transform="translate(969.5,1080) rotate(-90)" font-size="29" text-anchor="middle">Photocurrent (A)</text>
<text x="1390.8" y="1146" font-size="24.9">Excited by 1550 nm (1.0 mW/mm<tspan dy="-11.5" font-size="16.5">2</tspan><tspan dy="11.5">)</tspan></text>
<text x="1390.8" y="1176" font-size="24.9">with perovskite thickness @</text>
<circle cx="1421.5" cy="1210.7" r="5.6" fill="url(#sk)"/>
<text x="1435" y="1218.4" font-size="24.7">0 (nm)</text>
<circle cx="1421.5" cy="1247" r="5.8" fill="url(#sm)"/>
<text x="1435" y="1254.7" font-size="24.7">100</text>
<circle cx="1421.5" cy="1283.7" r="4.8" fill="url(#sr)"/>
<text x="1435" y="1291.4" font-size="24.7">150</text>
<circle cx="1421.5" cy="1320.3" r="5.5" fill="url(#sb)"/>
<text x="1435" y="1328.0" font-size="24.7">180</text>
</g>
</svg>
</body></html>
